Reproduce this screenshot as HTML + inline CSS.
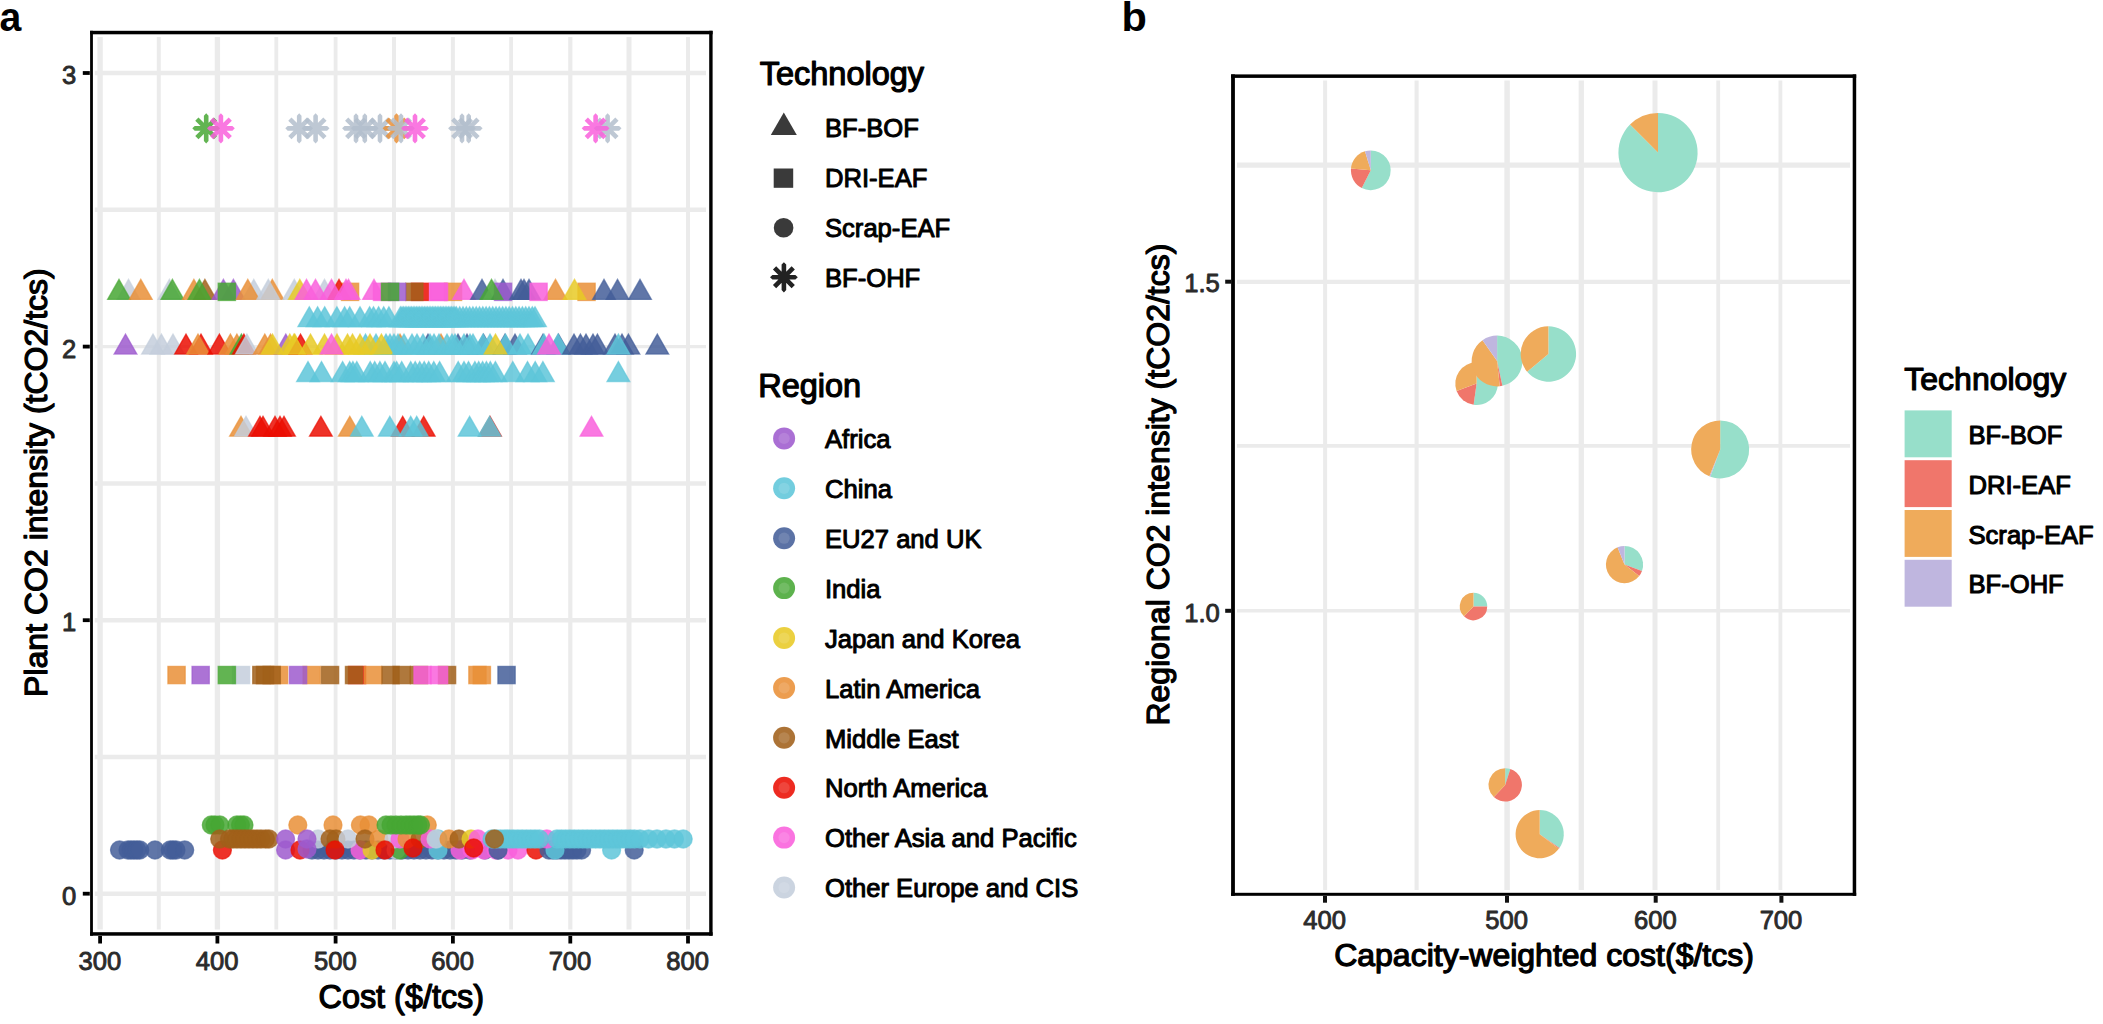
<!DOCTYPE html>
<html lang="en"><head><meta charset="utf-8"><title>Figure</title><style>html,body{margin:0;padding:0;background:#fff}svg{display:block}</style></head><body>
<svg width="2103" height="1024" viewBox="0 0 2103 1024" font-family="'Liberation Sans', Arial, sans-serif">
<rect width="2103" height="1024" fill="#fff"/>
<g stroke="#ebebeb" stroke-width="4.5">
<line x1="100.1" x2="100.1" y1="37" y2="929.4" stroke-width="5.4"/>
<line x1="158.8" x2="158.8" y1="37" y2="929.4" stroke-width="4.0"/>
<line x1="217.4" x2="217.4" y1="37" y2="929.4" stroke-width="5.3"/>
<line x1="276.3" x2="276.3" y1="37" y2="929.4" stroke-width="3.8"/>
<line x1="335.6" x2="335.6" y1="37" y2="929.4" stroke-width="3.8"/>
<line x1="394.0" x2="394.0" y1="37" y2="929.4" stroke-width="4.0"/>
<line x1="452.9" x2="452.9" y1="37" y2="929.4" stroke-width="4.0"/>
<line x1="511.1" x2="511.1" y1="37" y2="929.4" stroke-width="3.8"/>
<line x1="570.3" x2="570.3" y1="37" y2="929.4" stroke-width="4.2"/>
<line x1="629.0" x2="629.0" y1="37" y2="929.4" stroke-width="5.0"/>
<line x1="688.0" x2="688.0" y1="37" y2="929.4" stroke-width="4.0"/>
<line x1="94.8" x2="706" y1="893.7" y2="893.7"/>
<line x1="94.8" x2="706" y1="756.9" y2="756.9"/>
<line x1="94.8" x2="706" y1="620.2" y2="620.2"/>
<line x1="94.8" x2="706" y1="483.4" y2="483.4"/>
<line x1="94.8" x2="706" y1="346.6" y2="346.6" stroke-width="3.2"/>
<line x1="94.8" x2="706" y1="209.8" y2="209.8"/>
<line x1="94.8" x2="706" y1="73.0" y2="73.0"/>
</g>
<g id="pa">
<path d="M192.30 128.36L194.70 126.06L217.70 126.06L220.10 128.36L217.70 130.66L194.70 130.66ZM206.20 113.26L208.50 115.66L208.50 141.06L206.20 143.46L203.90 141.06L203.90 115.66ZM198.49 117.40L217.16 136.07L213.91 139.32L195.24 120.65ZM195.24 136.07L213.91 117.40L217.16 120.65L198.49 139.32Z" fill="#47a734" fill-opacity="0.85"/>
<path d="M207.00 128.36L209.40 126.06L232.40 126.06L234.80 128.36L232.40 130.66L209.40 130.66ZM220.90 113.26L223.20 115.66L223.20 141.06L220.90 143.46L218.60 141.06L218.60 115.66ZM213.19 117.40L231.86 136.07L228.61 139.32L209.94 120.65ZM209.94 136.07L228.61 117.40L231.86 120.65L213.19 139.32Z" fill="#f960dc" fill-opacity="0.85"/>
<path d="M285.30 128.36L287.70 126.06L310.70 126.06L313.10 128.36L310.70 130.66L287.70 130.66ZM299.20 113.26L301.50 115.66L301.50 141.06L299.20 143.46L296.90 141.06L296.90 115.66ZM291.49 117.40L310.16 136.07L306.91 139.32L288.24 120.65ZM288.24 136.07L306.91 117.40L310.16 120.65L291.49 139.32Z" fill="#b3becd" fill-opacity="0.85"/>
<path d="M301.70 128.36L304.10 126.06L327.10 126.06L329.50 128.36L327.10 130.66L304.10 130.66ZM315.60 113.26L317.90 115.66L317.90 141.06L315.60 143.46L313.30 141.06L313.30 115.66ZM307.89 117.40L326.56 136.07L323.31 139.32L304.64 120.65ZM304.64 136.07L323.31 117.40L326.56 120.65L307.89 139.32Z" fill="#b3becd" fill-opacity="0.85"/>
<path d="M342.10 128.36L344.50 126.06L367.50 126.06L369.90 128.36L367.50 130.66L344.50 130.66ZM356.00 113.26L358.30 115.66L358.30 141.06L356.00 143.46L353.70 141.06L353.70 115.66ZM348.29 117.40L366.96 136.07L363.71 139.32L345.04 120.65ZM345.04 136.07L363.71 117.40L366.96 120.65L348.29 139.32Z" fill="#b3becd" fill-opacity="0.85"/>
<path d="M350.90 128.36L353.30 126.06L376.30 126.06L378.70 128.36L376.30 130.66L353.30 130.66ZM364.80 113.26L367.10 115.66L367.10 141.06L364.80 143.46L362.50 141.06L362.50 115.66ZM357.09 117.40L375.76 136.07L372.51 139.32L353.84 120.65ZM353.84 136.07L372.51 117.40L375.76 120.65L357.09 139.32Z" fill="#b3becd" fill-opacity="0.85"/>
<path d="M366.10 128.36L368.50 126.06L391.50 126.06L393.90 128.36L391.50 130.66L368.50 130.66ZM380.00 113.26L382.30 115.66L382.30 141.06L380.00 143.46L377.70 141.06L377.70 115.66ZM372.29 117.40L390.96 136.07L387.71 139.32L369.04 120.65ZM369.04 136.07L387.71 117.40L390.96 120.65L372.29 139.32Z" fill="#b3becd" fill-opacity="0.85"/>
<path d="M382.60 128.36L385.00 126.06L408.00 126.06L410.40 128.36L408.00 130.66L385.00 130.66ZM396.50 113.26L398.80 115.66L398.80 141.06L396.50 143.46L394.20 141.06L394.20 115.66ZM388.79 117.40L407.46 136.07L404.21 139.32L385.54 120.65ZM385.54 136.07L404.21 117.40L407.46 120.65L388.79 139.32Z" fill="#e98f37" fill-opacity="0.85"/>
<path d="M387.10 128.36L389.50 126.06L412.50 126.06L414.90 128.36L412.50 130.66L389.50 130.66ZM401.00 113.26L403.30 115.66L403.30 141.06L401.00 143.46L398.70 141.06L398.70 115.66ZM393.29 117.40L411.96 136.07L408.71 139.32L390.04 120.65ZM390.04 136.07L408.71 117.40L411.96 120.65L393.29 139.32Z" fill="#b3becd" fill-opacity="0.85"/>
<path d="M401.10 128.36L403.50 126.06L426.50 126.06L428.90 128.36L426.50 130.66L403.50 130.66ZM415.00 113.26L417.30 115.66L417.30 141.06L415.00 143.46L412.70 141.06L412.70 115.66ZM407.29 117.40L425.96 136.07L422.71 139.32L404.04 120.65ZM404.04 136.07L422.71 117.40L425.96 120.65L407.29 139.32Z" fill="#f960dc" fill-opacity="0.85"/>
<path d="M448.10 128.36L450.50 126.06L473.50 126.06L475.90 128.36L473.50 130.66L450.50 130.66ZM462.00 113.26L464.30 115.66L464.30 141.06L462.00 143.46L459.70 141.06L459.70 115.66ZM454.29 117.40L472.96 136.07L469.71 139.32L451.04 120.65ZM451.04 136.07L469.71 117.40L472.96 120.65L454.29 139.32Z" fill="#b3becd" fill-opacity="0.85"/>
<path d="M454.80 128.36L457.20 126.06L480.20 126.06L482.60 128.36L480.20 130.66L457.20 130.66ZM468.70 113.26L471.00 115.66L471.00 141.06L468.70 143.46L466.40 141.06L466.40 115.66ZM460.99 117.40L479.66 136.07L476.41 139.32L457.74 120.65ZM457.74 136.07L476.41 117.40L479.66 120.65L460.99 139.32Z" fill="#b3becd" fill-opacity="0.85"/>
<path d="M593.70 128.36L596.10 126.06L619.10 126.06L621.50 128.36L619.10 130.66L596.10 130.66ZM607.60 113.26L609.90 115.66L609.90 141.06L607.60 143.46L605.30 141.06L605.30 115.66ZM599.89 117.40L618.56 136.07L615.31 139.32L596.64 120.65ZM596.64 136.07L615.31 117.40L618.56 120.65L599.89 139.32Z" fill="#b3becd" fill-opacity="0.85"/>
<path d="M581.70 128.36L584.10 126.06L607.10 126.06L609.50 128.36L607.10 130.66L584.10 130.66ZM595.60 113.26L597.90 115.66L597.90 141.06L595.60 143.46L593.30 141.06L593.30 115.66ZM587.89 117.40L606.56 136.07L603.31 139.32L584.64 120.65ZM584.64 136.07L603.31 117.40L606.56 120.65L587.89 139.32Z" fill="#f960dc" fill-opacity="0.85"/>
<path d="M117.1 299.4L139.9 299.4L128.5 279.4Z" fill="#c4cedc" fill-opacity="0.85" stroke="#c4cedc" stroke-opacity="0.68" stroke-width="1.3"/>
<path d="M107.6 299.4L130.4 299.4L119.0 279.4Z" fill="#47a734" fill-opacity="0.85" stroke="#47a734" stroke-opacity="0.68" stroke-width="1.3"/>
<path d="M129.4 299.4L152.2 299.4L140.8 279.4Z" fill="#e98f37" fill-opacity="0.85" stroke="#e98f37" stroke-opacity="0.68" stroke-width="1.3"/>
<path d="M158.0 299.4L180.8 299.4L169.4 279.4Z" fill="#c4cedc" fill-opacity="0.85" stroke="#c4cedc" stroke-opacity="0.68" stroke-width="1.3"/>
<path d="M161.0 299.4L183.8 299.4L172.4 279.4Z" fill="#47a734" fill-opacity="0.85" stroke="#47a734" stroke-opacity="0.68" stroke-width="1.3"/>
<path d="M182.5 299.4L205.3 299.4L193.9 279.4Z" fill="#e98f37" fill-opacity="0.85" stroke="#e98f37" stroke-opacity="0.68" stroke-width="1.3"/>
<path d="M193.5 299.4L216.3 299.4L204.9 279.4Z" fill="#a1601a" fill-opacity="0.85" stroke="#a1601a" stroke-opacity="0.68" stroke-width="1.3"/>
<path d="M188.0 299.4L210.8 299.4L199.4 279.4Z" fill="#47a734" fill-opacity="0.85" stroke="#47a734" stroke-opacity="0.68" stroke-width="1.3"/>
<path d="M212.0 299.4L234.8 299.4L223.4 279.4Z" fill="#9e5bce" fill-opacity="0.85" stroke="#9e5bce" stroke-opacity="0.68" stroke-width="1.3"/>
<path d="M222.0 299.4L244.8 299.4L233.4 279.4Z" fill="#9e5bce" fill-opacity="0.85" stroke="#9e5bce" stroke-opacity="0.68" stroke-width="1.3"/>
<rect x="218.2" y="283.2" width="17.3" height="17.3" fill="#47a734" fill-opacity="0.85" stroke="#47a734" stroke-opacity="0.68" stroke-width="1.3"/>
<path d="M242.4 299.4L265.2 299.4L253.8 279.4Z" fill="#c4cedc" fill-opacity="0.85" stroke="#c4cedc" stroke-opacity="0.68" stroke-width="1.3"/>
<path d="M236.4 299.4L259.2 299.4L247.8 279.4Z" fill="#e98f37" fill-opacity="0.85" stroke="#e98f37" stroke-opacity="0.68" stroke-width="1.3"/>
<path d="M260.9 299.4L283.7 299.4L272.3 279.4Z" fill="#e98f37" fill-opacity="0.85" stroke="#e98f37" stroke-opacity="0.68" stroke-width="1.3"/>
<path d="M256.9 299.4L279.7 299.4L268.3 279.4Z" fill="#c4cedc" fill-opacity="0.85" stroke="#c4cedc" stroke-opacity="0.68" stroke-width="1.3"/>
<path d="M282.9 299.4L305.7 299.4L294.3 279.4Z" fill="#c4cedc" fill-opacity="0.85" stroke="#c4cedc" stroke-opacity="0.68" stroke-width="1.3"/>
<path d="M288.4 299.4L311.2 299.4L299.8 279.4Z" fill="#e8ca26" fill-opacity="0.85" stroke="#e8ca26" stroke-opacity="0.68" stroke-width="1.3"/>
<rect x="341.4" y="283.2" width="17.3" height="17.3" fill="#e98f37" fill-opacity="0.85" stroke="#e98f37" stroke-opacity="0.68" stroke-width="1.3"/>
<path d="M313.1 299.4L335.9 299.4L324.5 279.4Z" fill="#c4cedc" fill-opacity="0.85" stroke="#c4cedc" stroke-opacity="0.68" stroke-width="1.3"/>
<path d="M327.6 299.4L350.4 299.4L339.0 279.4Z" fill="#eb0e02" fill-opacity="0.85" stroke="#eb0e02" stroke-opacity="0.68" stroke-width="1.3"/>
<path d="M295.1 299.4L317.9 299.4L306.5 279.4Z" fill="#f960dc" fill-opacity="0.85" stroke="#f960dc" stroke-opacity="0.68" stroke-width="1.3"/>
<path d="M304.1 299.4L326.9 299.4L315.5 279.4Z" fill="#f960dc" fill-opacity="0.85" stroke="#f960dc" stroke-opacity="0.68" stroke-width="1.3"/>
<path d="M320.1 299.4L342.9 299.4L331.5 279.4Z" fill="#f960dc" fill-opacity="0.85" stroke="#f960dc" stroke-opacity="0.68" stroke-width="1.3"/>
<path d="M334.6 299.4L357.4 299.4L346.0 279.4Z" fill="#f960dc" fill-opacity="0.85" stroke="#f960dc" stroke-opacity="0.68" stroke-width="1.3"/>
<path d="M337.1 299.4L359.9 299.4L348.5 279.4Z" fill="#f960dc" fill-opacity="0.85" stroke="#f960dc" stroke-opacity="0.68" stroke-width="1.3"/>
<path d="M362.6 299.4L385.4 299.4L374.0 279.4Z" fill="#f960dc" fill-opacity="0.85" stroke="#f960dc" stroke-opacity="0.68" stroke-width="1.3"/>
<rect x="373.4" y="283.2" width="17.3" height="17.3" fill="#f960dc" fill-opacity="0.85" stroke="#f960dc" stroke-opacity="0.68" stroke-width="1.3"/>
<rect x="411.4" y="283.2" width="17.3" height="17.3" fill="#eb0e02" fill-opacity="0.85" stroke="#eb0e02" stroke-opacity="0.68" stroke-width="1.3"/>
<rect x="405.7" y="283.2" width="17.3" height="17.3" fill="#a1601a" fill-opacity="0.85" stroke="#a1601a" stroke-opacity="0.68" stroke-width="1.3"/>
<rect x="388.4" y="283.2" width="17.3" height="17.3" fill="#9e5bce" fill-opacity="0.85" stroke="#9e5bce" stroke-opacity="0.68" stroke-width="1.3"/>
<rect x="381.4" y="283.2" width="17.3" height="17.3" fill="#47a734" fill-opacity="0.85" stroke="#47a734" stroke-opacity="0.68" stroke-width="1.3"/>
<rect x="444.4" y="283.2" width="17.3" height="17.3" fill="#e98f37" fill-opacity="0.85" stroke="#e98f37" stroke-opacity="0.68" stroke-width="1.3"/>
<rect x="429.4" y="283.2" width="17.3" height="17.3" fill="#f960dc" fill-opacity="0.85" stroke="#f960dc" stroke-opacity="0.68" stroke-width="1.3"/>
<rect x="430.4" y="283.2" width="17.3" height="17.3" fill="#f960dc" fill-opacity="0.85" stroke="#f960dc" stroke-opacity="0.68" stroke-width="1.3"/>
<path d="M452.6 299.4L475.4 299.4L464.0 279.4Z" fill="#f960dc" fill-opacity="0.85" stroke="#f960dc" stroke-opacity="0.68" stroke-width="1.3"/>
<path d="M470.6 299.4L493.4 299.4L482.0 279.4Z" fill="#445e99" fill-opacity="0.85" stroke="#445e99" stroke-opacity="0.68" stroke-width="1.3"/>
<path d="M483.6 299.4L506.4 299.4L495.0 279.4Z" fill="#c4cedc" fill-opacity="0.85" stroke="#c4cedc" stroke-opacity="0.68" stroke-width="1.3"/>
<path d="M491.6 299.4L514.4 299.4L503.0 279.4Z" fill="#445e99" fill-opacity="0.85" stroke="#445e99" stroke-opacity="0.68" stroke-width="1.3"/>
<rect x="494.4" y="283.2" width="17.3" height="17.3" fill="#9e5bce" fill-opacity="0.85" stroke="#9e5bce" stroke-opacity="0.68" stroke-width="1.3"/>
<path d="M480.1 299.4L502.9 299.4L491.5 279.4Z" fill="#47a734" fill-opacity="0.85" stroke="#47a734" stroke-opacity="0.68" stroke-width="1.3"/>
<path d="M509.6 299.4L532.4 299.4L521.0 279.4Z" fill="#445e99" fill-opacity="0.85" stroke="#445e99" stroke-opacity="0.68" stroke-width="1.3"/>
<path d="M512.6 299.4L535.4 299.4L524.0 279.4Z" fill="#445e99" fill-opacity="0.85" stroke="#445e99" stroke-opacity="0.68" stroke-width="1.3"/>
<path d="M517.6 299.4L540.4 299.4L529.0 279.4Z" fill="#445e99" fill-opacity="0.85" stroke="#445e99" stroke-opacity="0.68" stroke-width="1.3"/>
<path d="M544.1 299.4L566.9 299.4L555.5 279.4Z" fill="#e98f37" fill-opacity="0.85" stroke="#e98f37" stroke-opacity="0.68" stroke-width="1.3"/>
<rect x="529.9" y="283.2" width="17.3" height="17.3" fill="#f960dc" fill-opacity="0.85" stroke="#f960dc" stroke-opacity="0.68" stroke-width="1.3"/>
<rect x="577.9" y="283.2" width="17.3" height="17.3" fill="#e98f37" fill-opacity="0.85" stroke="#e98f37" stroke-opacity="0.68" stroke-width="1.3"/>
<path d="M563.1 299.4L585.9 299.4L574.5 279.4Z" fill="#e8ca26" fill-opacity="0.85" stroke="#e8ca26" stroke-opacity="0.68" stroke-width="1.3"/>
<path d="M592.6 299.4L615.4 299.4L604.0 279.4Z" fill="#445e99" fill-opacity="0.85" stroke="#445e99" stroke-opacity="0.68" stroke-width="1.3"/>
<path d="M606.1 299.4L628.9 299.4L617.5 279.4Z" fill="#445e99" fill-opacity="0.85" stroke="#445e99" stroke-opacity="0.68" stroke-width="1.3"/>
<path d="M628.6 299.4L651.4 299.4L640.0 279.4Z" fill="#445e99" fill-opacity="0.85" stroke="#445e99" stroke-opacity="0.68" stroke-width="1.3"/>
<path d="M297.9 326.7L320.7 326.7L309.3 306.7Z" fill="#5ec6d9" fill-opacity="0.85" stroke="#5ec6d9" stroke-opacity="0.68" stroke-width="1.3"/>
<path d="M306.2 326.7L329.0 326.7L317.6 306.7Z" fill="#5ec6d9" fill-opacity="0.85" stroke="#5ec6d9" stroke-opacity="0.68" stroke-width="1.3"/>
<path d="M313.3 326.7L336.1 326.7L324.7 306.7Z" fill="#5ec6d9" fill-opacity="0.85" stroke="#5ec6d9" stroke-opacity="0.68" stroke-width="1.3"/>
<path d="M325.5 326.7L348.3 326.7L336.9 306.7Z" fill="#5ec6d9" fill-opacity="0.85" stroke="#5ec6d9" stroke-opacity="0.68" stroke-width="1.3"/>
<path d="M333.2 326.7L356.0 326.7L344.6 306.7Z" fill="#5ec6d9" fill-opacity="0.85" stroke="#5ec6d9" stroke-opacity="0.68" stroke-width="1.3"/>
<path d="M338.3 326.7L361.1 326.7L349.7 306.7Z" fill="#5ec6d9" fill-opacity="0.85" stroke="#5ec6d9" stroke-opacity="0.68" stroke-width="1.3"/>
<path d="M348.6 326.7L371.4 326.7L360.0 306.7Z" fill="#5ec6d9" fill-opacity="0.85" stroke="#5ec6d9" stroke-opacity="0.68" stroke-width="1.3"/>
<path d="M358.2 326.7L381.0 326.7L369.6 306.7Z" fill="#5ec6d9" fill-opacity="0.85" stroke="#5ec6d9" stroke-opacity="0.68" stroke-width="1.3"/>
<path d="M362.1 326.7L384.9 326.7L373.5 306.7Z" fill="#5ec6d9" fill-opacity="0.85" stroke="#5ec6d9" stroke-opacity="0.68" stroke-width="1.3"/>
<path d="M367.2 326.7L390.0 326.7L378.6 306.7Z" fill="#5ec6d9" fill-opacity="0.85" stroke="#5ec6d9" stroke-opacity="0.68" stroke-width="1.3"/>
<path d="M372.3 326.7L395.1 326.7L383.7 306.7Z" fill="#5ec6d9" fill-opacity="0.85" stroke="#5ec6d9" stroke-opacity="0.68" stroke-width="1.3"/>
<path d="M377.5 326.7L400.3 326.7L388.9 306.7Z" fill="#5ec6d9" fill-opacity="0.85" stroke="#5ec6d9" stroke-opacity="0.68" stroke-width="1.3"/>
<path d="M389.0 326.7L411.8 326.7L400.4 306.7Z" fill="#5ec6d9" fill-opacity="0.85" stroke="#5ec6d9" stroke-opacity="0.68" stroke-width="1.3"/>
<path d="M390.6 326.7L413.4 326.7L402.0 306.7Z" fill="#5ec6d9" fill-opacity="0.85" stroke="#5ec6d9" stroke-opacity="0.68" stroke-width="1.3"/>
<path d="M392.2 326.7L415.0 326.7L403.6 306.7Z" fill="#5ec6d9" fill-opacity="0.85" stroke="#5ec6d9" stroke-opacity="0.68" stroke-width="1.3"/>
<path d="M393.8 326.7L416.6 326.7L405.2 306.7Z" fill="#5ec6d9" fill-opacity="0.85" stroke="#5ec6d9" stroke-opacity="0.68" stroke-width="1.3"/>
<path d="M395.4 326.7L418.2 326.7L406.8 306.7Z" fill="#5ec6d9" fill-opacity="0.85" stroke="#5ec6d9" stroke-opacity="0.68" stroke-width="1.3"/>
<path d="M397.0 326.7L419.8 326.7L408.4 306.7Z" fill="#5ec6d9" fill-opacity="0.85" stroke="#5ec6d9" stroke-opacity="0.68" stroke-width="1.3"/>
<path d="M398.6 326.7L421.4 326.7L410.0 306.7Z" fill="#5ec6d9" fill-opacity="0.85" stroke="#5ec6d9" stroke-opacity="0.68" stroke-width="1.3"/>
<path d="M400.2 326.7L423.0 326.7L411.6 306.7Z" fill="#5ec6d9" fill-opacity="0.85" stroke="#5ec6d9" stroke-opacity="0.68" stroke-width="1.3"/>
<path d="M401.8 326.7L424.6 326.7L413.2 306.7Z" fill="#5ec6d9" fill-opacity="0.85" stroke="#5ec6d9" stroke-opacity="0.68" stroke-width="1.3"/>
<path d="M403.4 326.7L426.2 326.7L414.8 306.7Z" fill="#5ec6d9" fill-opacity="0.85" stroke="#5ec6d9" stroke-opacity="0.68" stroke-width="1.3"/>
<path d="M405.0 326.7L427.8 326.7L416.4 306.7Z" fill="#5ec6d9" fill-opacity="0.85" stroke="#5ec6d9" stroke-opacity="0.68" stroke-width="1.3"/>
<path d="M406.6 326.7L429.4 326.7L418.0 306.7Z" fill="#5ec6d9" fill-opacity="0.85" stroke="#5ec6d9" stroke-opacity="0.68" stroke-width="1.3"/>
<path d="M408.2 326.7L431.0 326.7L419.6 306.7Z" fill="#5ec6d9" fill-opacity="0.85" stroke="#5ec6d9" stroke-opacity="0.68" stroke-width="1.3"/>
<path d="M409.8 326.7L432.6 326.7L421.2 306.7Z" fill="#5ec6d9" fill-opacity="0.85" stroke="#5ec6d9" stroke-opacity="0.68" stroke-width="1.3"/>
<path d="M411.4 326.7L434.2 326.7L422.8 306.7Z" fill="#5ec6d9" fill-opacity="0.85" stroke="#5ec6d9" stroke-opacity="0.68" stroke-width="1.3"/>
<path d="M413.0 326.7L435.8 326.7L424.4 306.7Z" fill="#5ec6d9" fill-opacity="0.85" stroke="#5ec6d9" stroke-opacity="0.68" stroke-width="1.3"/>
<path d="M414.6 326.7L437.4 326.7L426.0 306.7Z" fill="#5ec6d9" fill-opacity="0.85" stroke="#5ec6d9" stroke-opacity="0.68" stroke-width="1.3"/>
<path d="M416.2 326.7L439.0 326.7L427.6 306.7Z" fill="#5ec6d9" fill-opacity="0.85" stroke="#5ec6d9" stroke-opacity="0.68" stroke-width="1.3"/>
<path d="M417.8 326.7L440.6 326.7L429.2 306.7Z" fill="#5ec6d9" fill-opacity="0.85" stroke="#5ec6d9" stroke-opacity="0.68" stroke-width="1.3"/>
<path d="M419.4 326.7L442.2 326.7L430.8 306.7Z" fill="#5ec6d9" fill-opacity="0.85" stroke="#5ec6d9" stroke-opacity="0.68" stroke-width="1.3"/>
<path d="M421.0 326.7L443.8 326.7L432.4 306.7Z" fill="#5ec6d9" fill-opacity="0.85" stroke="#5ec6d9" stroke-opacity="0.68" stroke-width="1.3"/>
<path d="M422.6 326.7L445.4 326.7L434.0 306.7Z" fill="#5ec6d9" fill-opacity="0.85" stroke="#5ec6d9" stroke-opacity="0.68" stroke-width="1.3"/>
<path d="M424.2 326.7L447.0 326.7L435.6 306.7Z" fill="#5ec6d9" fill-opacity="0.85" stroke="#5ec6d9" stroke-opacity="0.68" stroke-width="1.3"/>
<path d="M425.8 326.7L448.6 326.7L437.2 306.7Z" fill="#5ec6d9" fill-opacity="0.85" stroke="#5ec6d9" stroke-opacity="0.68" stroke-width="1.3"/>
<path d="M427.4 326.7L450.2 326.7L438.8 306.7Z" fill="#5ec6d9" fill-opacity="0.85" stroke="#5ec6d9" stroke-opacity="0.68" stroke-width="1.3"/>
<path d="M429.0 326.7L451.8 326.7L440.4 306.7Z" fill="#5ec6d9" fill-opacity="0.85" stroke="#5ec6d9" stroke-opacity="0.68" stroke-width="1.3"/>
<path d="M430.6 326.7L453.4 326.7L442.0 306.7Z" fill="#5ec6d9" fill-opacity="0.85" stroke="#5ec6d9" stroke-opacity="0.68" stroke-width="1.3"/>
<path d="M432.2 326.7L455.0 326.7L443.6 306.7Z" fill="#5ec6d9" fill-opacity="0.85" stroke="#5ec6d9" stroke-opacity="0.68" stroke-width="1.3"/>
<path d="M433.8 326.7L456.6 326.7L445.2 306.7Z" fill="#5ec6d9" fill-opacity="0.85" stroke="#5ec6d9" stroke-opacity="0.68" stroke-width="1.3"/>
<path d="M435.4 326.7L458.2 326.7L446.8 306.7Z" fill="#5ec6d9" fill-opacity="0.85" stroke="#5ec6d9" stroke-opacity="0.68" stroke-width="1.3"/>
<path d="M437.0 326.7L459.8 326.7L448.4 306.7Z" fill="#5ec6d9" fill-opacity="0.85" stroke="#5ec6d9" stroke-opacity="0.68" stroke-width="1.3"/>
<path d="M438.6 326.7L461.4 326.7L450.0 306.7Z" fill="#5ec6d9" fill-opacity="0.85" stroke="#5ec6d9" stroke-opacity="0.68" stroke-width="1.3"/>
<path d="M440.2 326.7L463.0 326.7L451.6 306.7Z" fill="#5ec6d9" fill-opacity="0.85" stroke="#5ec6d9" stroke-opacity="0.68" stroke-width="1.3"/>
<path d="M441.8 326.7L464.6 326.7L453.2 306.7Z" fill="#5ec6d9" fill-opacity="0.85" stroke="#5ec6d9" stroke-opacity="0.68" stroke-width="1.3"/>
<path d="M443.4 326.7L466.2 326.7L454.8 306.7Z" fill="#5ec6d9" fill-opacity="0.85" stroke="#5ec6d9" stroke-opacity="0.68" stroke-width="1.3"/>
<path d="M445.0 326.7L467.8 326.7L456.4 306.7Z" fill="#5ec6d9" fill-opacity="0.85" stroke="#5ec6d9" stroke-opacity="0.68" stroke-width="1.3"/>
<path d="M448.3 326.7L471.1 326.7L459.7 306.7Z" fill="#5ec6d9" fill-opacity="0.85" stroke="#5ec6d9" stroke-opacity="0.68" stroke-width="1.3"/>
<path d="M451.6 326.7L474.4 326.7L463.0 306.7Z" fill="#5ec6d9" fill-opacity="0.85" stroke="#5ec6d9" stroke-opacity="0.68" stroke-width="1.3"/>
<path d="M454.9 326.7L477.7 326.7L466.3 306.7Z" fill="#5ec6d9" fill-opacity="0.85" stroke="#5ec6d9" stroke-opacity="0.68" stroke-width="1.3"/>
<path d="M458.2 326.7L481.0 326.7L469.6 306.7Z" fill="#5ec6d9" fill-opacity="0.85" stroke="#5ec6d9" stroke-opacity="0.68" stroke-width="1.3"/>
<path d="M461.5 326.7L484.3 326.7L472.9 306.7Z" fill="#5ec6d9" fill-opacity="0.85" stroke="#5ec6d9" stroke-opacity="0.68" stroke-width="1.3"/>
<path d="M464.8 326.7L487.6 326.7L476.2 306.7Z" fill="#5ec6d9" fill-opacity="0.85" stroke="#5ec6d9" stroke-opacity="0.68" stroke-width="1.3"/>
<path d="M468.1 326.7L490.9 326.7L479.5 306.7Z" fill="#5ec6d9" fill-opacity="0.85" stroke="#5ec6d9" stroke-opacity="0.68" stroke-width="1.3"/>
<path d="M471.4 326.7L494.2 326.7L482.8 306.7Z" fill="#5ec6d9" fill-opacity="0.85" stroke="#5ec6d9" stroke-opacity="0.68" stroke-width="1.3"/>
<path d="M474.7 326.7L497.5 326.7L486.1 306.7Z" fill="#5ec6d9" fill-opacity="0.85" stroke="#5ec6d9" stroke-opacity="0.68" stroke-width="1.3"/>
<path d="M478.0 326.7L500.8 326.7L489.4 306.7Z" fill="#5ec6d9" fill-opacity="0.85" stroke="#5ec6d9" stroke-opacity="0.68" stroke-width="1.3"/>
<path d="M481.3 326.7L504.1 326.7L492.7 306.7Z" fill="#5ec6d9" fill-opacity="0.85" stroke="#5ec6d9" stroke-opacity="0.68" stroke-width="1.3"/>
<path d="M484.6 326.7L507.4 326.7L496.0 306.7Z" fill="#5ec6d9" fill-opacity="0.85" stroke="#5ec6d9" stroke-opacity="0.68" stroke-width="1.3"/>
<path d="M487.9 326.7L510.7 326.7L499.3 306.7Z" fill="#5ec6d9" fill-opacity="0.85" stroke="#5ec6d9" stroke-opacity="0.68" stroke-width="1.3"/>
<path d="M491.2 326.7L514.0 326.7L502.6 306.7Z" fill="#5ec6d9" fill-opacity="0.85" stroke="#5ec6d9" stroke-opacity="0.68" stroke-width="1.3"/>
<path d="M494.5 326.7L517.3 326.7L505.9 306.7Z" fill="#5ec6d9" fill-opacity="0.85" stroke="#5ec6d9" stroke-opacity="0.68" stroke-width="1.3"/>
<path d="M497.8 326.7L520.6 326.7L509.2 306.7Z" fill="#5ec6d9" fill-opacity="0.85" stroke="#5ec6d9" stroke-opacity="0.68" stroke-width="1.3"/>
<path d="M501.1 326.7L523.9 326.7L512.5 306.7Z" fill="#5ec6d9" fill-opacity="0.85" stroke="#5ec6d9" stroke-opacity="0.68" stroke-width="1.3"/>
<path d="M504.4 326.7L527.2 326.7L515.8 306.7Z" fill="#5ec6d9" fill-opacity="0.85" stroke="#5ec6d9" stroke-opacity="0.68" stroke-width="1.3"/>
<path d="M507.7 326.7L530.5 326.7L519.1 306.7Z" fill="#5ec6d9" fill-opacity="0.85" stroke="#5ec6d9" stroke-opacity="0.68" stroke-width="1.3"/>
<path d="M511.0 326.7L533.8 326.7L522.4 306.7Z" fill="#5ec6d9" fill-opacity="0.85" stroke="#5ec6d9" stroke-opacity="0.68" stroke-width="1.3"/>
<path d="M514.3 326.7L537.1 326.7L525.7 306.7Z" fill="#5ec6d9" fill-opacity="0.85" stroke="#5ec6d9" stroke-opacity="0.68" stroke-width="1.3"/>
<path d="M517.6 326.7L540.4 326.7L529.0 306.7Z" fill="#5ec6d9" fill-opacity="0.85" stroke="#5ec6d9" stroke-opacity="0.68" stroke-width="1.3"/>
<path d="M520.9 326.7L543.7 326.7L532.3 306.7Z" fill="#5ec6d9" fill-opacity="0.85" stroke="#5ec6d9" stroke-opacity="0.68" stroke-width="1.3"/>
<path d="M523.6 326.7L546.4 326.7L535.0 306.7Z" fill="#5ec6d9" fill-opacity="0.85" stroke="#5ec6d9" stroke-opacity="0.68" stroke-width="1.3"/>
<path d="M296.6 381.5L319.4 381.5L308.0 361.5Z" fill="#5ec6d9" fill-opacity="0.85" stroke="#5ec6d9" stroke-opacity="0.68" stroke-width="1.3"/>
<path d="M310.1 381.5L332.9 381.5L321.5 361.5Z" fill="#5ec6d9" fill-opacity="0.85" stroke="#5ec6d9" stroke-opacity="0.68" stroke-width="1.3"/>
<path d="M331.2 381.5L354.0 381.5L342.6 361.5Z" fill="#5ec6d9" fill-opacity="0.85" stroke="#5ec6d9" stroke-opacity="0.68" stroke-width="1.3"/>
<path d="M338.3 381.5L361.1 381.5L349.7 361.5Z" fill="#5ec6d9" fill-opacity="0.85" stroke="#5ec6d9" stroke-opacity="0.68" stroke-width="1.3"/>
<path d="M341.5 381.5L364.3 381.5L352.9 361.5Z" fill="#5ec6d9" fill-opacity="0.85" stroke="#5ec6d9" stroke-opacity="0.68" stroke-width="1.3"/>
<path d="M345.4 381.5L368.2 381.5L356.8 361.5Z" fill="#5ec6d9" fill-opacity="0.85" stroke="#5ec6d9" stroke-opacity="0.68" stroke-width="1.3"/>
<path d="M358.8 381.5L381.6 381.5L370.2 361.5Z" fill="#5ec6d9" fill-opacity="0.85" stroke="#5ec6d9" stroke-opacity="0.68" stroke-width="1.3"/>
<path d="M363.3 381.5L386.1 381.5L374.7 361.5Z" fill="#5ec6d9" fill-opacity="0.85" stroke="#5ec6d9" stroke-opacity="0.68" stroke-width="1.3"/>
<path d="M368.5 381.5L391.3 381.5L379.9 361.5Z" fill="#5ec6d9" fill-opacity="0.85" stroke="#5ec6d9" stroke-opacity="0.68" stroke-width="1.3"/>
<path d="M373.6 381.5L396.4 381.5L385.0 361.5Z" fill="#5ec6d9" fill-opacity="0.85" stroke="#5ec6d9" stroke-opacity="0.68" stroke-width="1.3"/>
<path d="M382.6 381.5L405.4 381.5L394.0 361.5Z" fill="#5ec6d9" fill-opacity="0.85" stroke="#5ec6d9" stroke-opacity="0.68" stroke-width="1.3"/>
<path d="M385.2 381.5L408.0 381.5L396.6 361.5Z" fill="#5ec6d9" fill-opacity="0.85" stroke="#5ec6d9" stroke-opacity="0.68" stroke-width="1.3"/>
<path d="M390.3 381.5L413.1 381.5L401.7 361.5Z" fill="#5ec6d9" fill-opacity="0.85" stroke="#5ec6d9" stroke-opacity="0.68" stroke-width="1.3"/>
<path d="M399.3 381.5L422.1 381.5L410.7 361.5Z" fill="#5ec6d9" fill-opacity="0.85" stroke="#5ec6d9" stroke-opacity="0.68" stroke-width="1.3"/>
<path d="M403.8 381.5L426.6 381.5L415.2 361.5Z" fill="#5ec6d9" fill-opacity="0.85" stroke="#5ec6d9" stroke-opacity="0.68" stroke-width="1.3"/>
<path d="M408.3 381.5L431.1 381.5L419.7 361.5Z" fill="#5ec6d9" fill-opacity="0.85" stroke="#5ec6d9" stroke-opacity="0.68" stroke-width="1.3"/>
<path d="M412.8 381.5L435.6 381.5L424.2 361.5Z" fill="#5ec6d9" fill-opacity="0.85" stroke="#5ec6d9" stroke-opacity="0.68" stroke-width="1.3"/>
<path d="M417.3 381.5L440.1 381.5L428.7 361.5Z" fill="#5ec6d9" fill-opacity="0.85" stroke="#5ec6d9" stroke-opacity="0.68" stroke-width="1.3"/>
<path d="M422.4 381.5L445.2 381.5L433.8 361.5Z" fill="#5ec6d9" fill-opacity="0.85" stroke="#5ec6d9" stroke-opacity="0.68" stroke-width="1.3"/>
<path d="M428.2 381.5L451.0 381.5L439.6 361.5Z" fill="#5ec6d9" fill-opacity="0.85" stroke="#5ec6d9" stroke-opacity="0.68" stroke-width="1.3"/>
<path d="M446.8 381.5L469.6 381.5L458.2 361.5Z" fill="#5ec6d9" fill-opacity="0.85" stroke="#5ec6d9" stroke-opacity="0.68" stroke-width="1.3"/>
<path d="M452.6 381.5L475.4 381.5L464.0 361.5Z" fill="#5ec6d9" fill-opacity="0.85" stroke="#5ec6d9" stroke-opacity="0.68" stroke-width="1.3"/>
<path d="M457.1 381.5L479.9 381.5L468.5 361.5Z" fill="#5ec6d9" fill-opacity="0.85" stroke="#5ec6d9" stroke-opacity="0.68" stroke-width="1.3"/>
<path d="M463.5 381.5L486.3 381.5L474.9 361.5Z" fill="#5ec6d9" fill-opacity="0.85" stroke="#5ec6d9" stroke-opacity="0.68" stroke-width="1.3"/>
<path d="M467.3 381.5L490.1 381.5L478.7 361.5Z" fill="#5ec6d9" fill-opacity="0.85" stroke="#5ec6d9" stroke-opacity="0.68" stroke-width="1.3"/>
<path d="M471.2 381.5L494.0 381.5L482.6 361.5Z" fill="#5ec6d9" fill-opacity="0.85" stroke="#5ec6d9" stroke-opacity="0.68" stroke-width="1.3"/>
<path d="M475.0 381.5L497.8 381.5L486.4 361.5Z" fill="#5ec6d9" fill-opacity="0.85" stroke="#5ec6d9" stroke-opacity="0.68" stroke-width="1.3"/>
<path d="M478.9 381.5L501.7 381.5L490.3 361.5Z" fill="#5ec6d9" fill-opacity="0.85" stroke="#5ec6d9" stroke-opacity="0.68" stroke-width="1.3"/>
<path d="M484.0 381.5L506.8 381.5L495.4 361.5Z" fill="#5ec6d9" fill-opacity="0.85" stroke="#5ec6d9" stroke-opacity="0.68" stroke-width="1.3"/>
<path d="M501.4 381.5L524.2 381.5L512.8 361.5Z" fill="#5ec6d9" fill-opacity="0.85" stroke="#5ec6d9" stroke-opacity="0.68" stroke-width="1.3"/>
<path d="M516.1 381.5L538.9 381.5L527.5 361.5Z" fill="#5ec6d9" fill-opacity="0.85" stroke="#5ec6d9" stroke-opacity="0.68" stroke-width="1.3"/>
<path d="M523.8 381.5L546.6 381.5L535.2 361.5Z" fill="#5ec6d9" fill-opacity="0.85" stroke="#5ec6d9" stroke-opacity="0.68" stroke-width="1.3"/>
<path d="M531.5 381.5L554.3 381.5L542.9 361.5Z" fill="#5ec6d9" fill-opacity="0.85" stroke="#5ec6d9" stroke-opacity="0.68" stroke-width="1.3"/>
<path d="M607.0 381.5L629.8 381.5L618.4 361.5Z" fill="#5ec6d9" fill-opacity="0.85" stroke="#5ec6d9" stroke-opacity="0.68" stroke-width="1.3"/>
<path d="M114.1 354.1L136.9 354.1L125.5 334.1Z" fill="#9e5bce" fill-opacity="0.85" stroke="#9e5bce" stroke-opacity="0.68" stroke-width="1.3"/>
<path d="M141.6 354.1L164.4 354.1L153.0 334.1Z" fill="#c4cedc" fill-opacity="0.85" stroke="#c4cedc" stroke-opacity="0.68" stroke-width="1.3"/>
<path d="M150.0 354.1L172.8 354.1L161.4 334.1Z" fill="#c4cedc" fill-opacity="0.85" stroke="#c4cedc" stroke-opacity="0.68" stroke-width="1.3"/>
<path d="M161.6 354.1L184.4 354.1L173.0 334.1Z" fill="#c4cedc" fill-opacity="0.85" stroke="#c4cedc" stroke-opacity="0.68" stroke-width="1.3"/>
<path d="M174.6 354.1L197.4 354.1L186.0 334.1Z" fill="#eb0e02" fill-opacity="0.85" stroke="#eb0e02" stroke-opacity="0.68" stroke-width="1.3"/>
<path d="M189.6 354.1L212.4 354.1L201.0 334.1Z" fill="#eb0e02" fill-opacity="0.85" stroke="#eb0e02" stroke-opacity="0.68" stroke-width="1.3"/>
<path d="M186.6 354.1L209.4 354.1L198.0 334.1Z" fill="#e98f37" fill-opacity="0.85" stroke="#e98f37" stroke-opacity="0.68" stroke-width="1.3"/>
<path d="M208.0 354.1L230.8 354.1L219.4 334.1Z" fill="#eb0e02" fill-opacity="0.85" stroke="#eb0e02" stroke-opacity="0.68" stroke-width="1.3"/>
<path d="M219.0 354.1L241.8 354.1L230.4 334.1Z" fill="#e98f37" fill-opacity="0.85" stroke="#e98f37" stroke-opacity="0.68" stroke-width="1.3"/>
<path d="M225.5 354.1L248.3 354.1L236.9 334.1Z" fill="#e98f37" fill-opacity="0.85" stroke="#e98f37" stroke-opacity="0.68" stroke-width="1.3"/>
<path d="M230.0 354.1L252.8 354.1L241.4 334.1Z" fill="#47a734" fill-opacity="0.85" stroke="#47a734" stroke-opacity="0.68" stroke-width="1.3"/>
<path d="M232.5 354.1L255.3 354.1L243.9 334.1Z" fill="#eb0e02" fill-opacity="0.85" stroke="#eb0e02" stroke-opacity="0.68" stroke-width="1.3"/>
<path d="M235.5 354.1L258.3 354.1L246.9 334.1Z" fill="#c4cedc" fill-opacity="0.85" stroke="#c4cedc" stroke-opacity="0.68" stroke-width="1.3"/>
<path d="M253.4 354.1L276.2 354.1L264.8 334.1Z" fill="#e98f37" fill-opacity="0.85" stroke="#e98f37" stroke-opacity="0.68" stroke-width="1.3"/>
<path d="M259.1 354.1L281.9 354.1L270.5 334.1Z" fill="#e98f37" fill-opacity="0.85" stroke="#e98f37" stroke-opacity="0.68" stroke-width="1.3"/>
<path d="M274.4 354.1L297.2 354.1L285.8 334.1Z" fill="#9e5bce" fill-opacity="0.85" stroke="#9e5bce" stroke-opacity="0.68" stroke-width="1.3"/>
<path d="M261.1 354.1L283.9 354.1L272.5 334.1Z" fill="#e8ca26" fill-opacity="0.85" stroke="#e8ca26" stroke-opacity="0.68" stroke-width="1.3"/>
<path d="M278.4 354.1L301.2 354.1L289.8 334.1Z" fill="#e8ca26" fill-opacity="0.85" stroke="#e8ca26" stroke-opacity="0.68" stroke-width="1.3"/>
<path d="M283.4 354.1L306.2 354.1L294.8 334.1Z" fill="#e8ca26" fill-opacity="0.85" stroke="#e8ca26" stroke-opacity="0.68" stroke-width="1.3"/>
<path d="M289.1 354.1L311.9 354.1L300.5 334.1Z" fill="#eb0e02" fill-opacity="0.85" stroke="#eb0e02" stroke-opacity="0.68" stroke-width="1.3"/>
<path d="M282.6 354.1L305.4 354.1L294.0 334.1Z" fill="#e8ca26" fill-opacity="0.85" stroke="#e8ca26" stroke-opacity="0.68" stroke-width="1.3"/>
<path d="M299.1 354.1L321.9 354.1L310.5 334.1Z" fill="#e8ca26" fill-opacity="0.85" stroke="#e8ca26" stroke-opacity="0.68" stroke-width="1.3"/>
<path d="M313.1 354.1L335.9 354.1L324.5 334.1Z" fill="#e8ca26" fill-opacity="0.85" stroke="#e8ca26" stroke-opacity="0.68" stroke-width="1.3"/>
<path d="M325.6 354.1L348.4 354.1L337.0 334.1Z" fill="#e8ca26" fill-opacity="0.85" stroke="#e8ca26" stroke-opacity="0.68" stroke-width="1.3"/>
<path d="M354.1 354.1L376.9 354.1L365.5 334.1Z" fill="#5ec6d9" fill-opacity="0.85" stroke="#5ec6d9" stroke-opacity="0.68" stroke-width="1.3"/>
<path d="M364.6 354.1L387.4 354.1L376.0 334.1Z" fill="#5ec6d9" fill-opacity="0.85" stroke="#5ec6d9" stroke-opacity="0.68" stroke-width="1.3"/>
<path d="M336.1 354.1L358.9 354.1L347.5 334.1Z" fill="#e8ca26" fill-opacity="0.85" stroke="#e8ca26" stroke-opacity="0.68" stroke-width="1.3"/>
<path d="M341.1 354.1L363.9 354.1L352.5 334.1Z" fill="#e8ca26" fill-opacity="0.85" stroke="#e8ca26" stroke-opacity="0.68" stroke-width="1.3"/>
<path d="M348.6 354.1L371.4 354.1L360.0 334.1Z" fill="#e8ca26" fill-opacity="0.85" stroke="#e8ca26" stroke-opacity="0.68" stroke-width="1.3"/>
<path d="M358.6 354.1L381.4 354.1L370.0 334.1Z" fill="#e8ca26" fill-opacity="0.85" stroke="#e8ca26" stroke-opacity="0.68" stroke-width="1.3"/>
<path d="M320.1 354.1L342.9 354.1L331.5 334.1Z" fill="#f960dc" fill-opacity="0.85" stroke="#f960dc" stroke-opacity="0.68" stroke-width="1.3"/>
<path d="M388.6 354.1L411.4 354.1L400.0 334.1Z" fill="#e98f37" fill-opacity="0.85" stroke="#e98f37" stroke-opacity="0.68" stroke-width="1.3"/>
<path d="M416.6 354.1L439.4 354.1L428.0 334.1Z" fill="#445e99" fill-opacity="0.85" stroke="#445e99" stroke-opacity="0.68" stroke-width="1.3"/>
<path d="M429.6 354.1L452.4 354.1L441.0 334.1Z" fill="#e98f37" fill-opacity="0.85" stroke="#e98f37" stroke-opacity="0.68" stroke-width="1.3"/>
<path d="M446.6 354.1L469.4 354.1L458.0 334.1Z" fill="#445e99" fill-opacity="0.85" stroke="#445e99" stroke-opacity="0.68" stroke-width="1.3"/>
<path d="M455.6 354.1L478.4 354.1L467.0 334.1Z" fill="#445e99" fill-opacity="0.85" stroke="#445e99" stroke-opacity="0.68" stroke-width="1.3"/>
<path d="M472.1 354.1L494.9 354.1L483.5 334.1Z" fill="#445e99" fill-opacity="0.85" stroke="#445e99" stroke-opacity="0.68" stroke-width="1.3"/>
<path d="M374.6 354.1L397.4 354.1L386.0 334.1Z" fill="#5ec6d9" fill-opacity="0.85" stroke="#5ec6d9" stroke-opacity="0.68" stroke-width="1.3"/>
<path d="M378.6 354.1L401.4 354.1L390.0 334.1Z" fill="#5ec6d9" fill-opacity="0.85" stroke="#5ec6d9" stroke-opacity="0.68" stroke-width="1.3"/>
<path d="M382.6 354.1L405.4 354.1L394.0 334.1Z" fill="#5ec6d9" fill-opacity="0.85" stroke="#5ec6d9" stroke-opacity="0.68" stroke-width="1.3"/>
<path d="M386.6 354.1L409.4 354.1L398.0 334.1Z" fill="#5ec6d9" fill-opacity="0.85" stroke="#5ec6d9" stroke-opacity="0.68" stroke-width="1.3"/>
<path d="M370.0 354.1L392.8 354.1L381.4 334.1Z" fill="#e8ca26" fill-opacity="0.85" stroke="#e8ca26" stroke-opacity="0.68" stroke-width="1.3"/>
<path d="M392.6 354.1L415.4 354.1L404.0 334.1Z" fill="#5ec6d9" fill-opacity="0.85" stroke="#5ec6d9" stroke-opacity="0.68" stroke-width="1.3"/>
<path d="M400.6 354.1L423.4 354.1L412.0 334.1Z" fill="#5ec6d9" fill-opacity="0.85" stroke="#5ec6d9" stroke-opacity="0.68" stroke-width="1.3"/>
<path d="M405.6 354.1L428.4 354.1L417.0 334.1Z" fill="#5ec6d9" fill-opacity="0.85" stroke="#5ec6d9" stroke-opacity="0.68" stroke-width="1.3"/>
<path d="M411.6 354.1L434.4 354.1L423.0 334.1Z" fill="#5ec6d9" fill-opacity="0.85" stroke="#5ec6d9" stroke-opacity="0.68" stroke-width="1.3"/>
<path d="M418.6 354.1L441.4 354.1L430.0 334.1Z" fill="#5ec6d9" fill-opacity="0.85" stroke="#5ec6d9" stroke-opacity="0.68" stroke-width="1.3"/>
<path d="M422.6 354.1L445.4 354.1L434.0 334.1Z" fill="#5ec6d9" fill-opacity="0.85" stroke="#5ec6d9" stroke-opacity="0.68" stroke-width="1.3"/>
<path d="M427.6 354.1L450.4 354.1L439.0 334.1Z" fill="#5ec6d9" fill-opacity="0.85" stroke="#5ec6d9" stroke-opacity="0.68" stroke-width="1.3"/>
<path d="M435.6 354.1L458.4 354.1L447.0 334.1Z" fill="#5ec6d9" fill-opacity="0.85" stroke="#5ec6d9" stroke-opacity="0.68" stroke-width="1.3"/>
<path d="M440.6 354.1L463.4 354.1L452.0 334.1Z" fill="#5ec6d9" fill-opacity="0.85" stroke="#5ec6d9" stroke-opacity="0.68" stroke-width="1.3"/>
<path d="M443.6 354.1L466.4 354.1L455.0 334.1Z" fill="#5ec6d9" fill-opacity="0.85" stroke="#5ec6d9" stroke-opacity="0.68" stroke-width="1.3"/>
<path d="M452.6 354.1L475.4 354.1L464.0 334.1Z" fill="#5ec6d9" fill-opacity="0.85" stroke="#5ec6d9" stroke-opacity="0.68" stroke-width="1.3"/>
<path d="M458.6 354.1L481.4 354.1L470.0 334.1Z" fill="#5ec6d9" fill-opacity="0.85" stroke="#5ec6d9" stroke-opacity="0.68" stroke-width="1.3"/>
<path d="M461.6 354.1L484.4 354.1L473.0 334.1Z" fill="#5ec6d9" fill-opacity="0.85" stroke="#5ec6d9" stroke-opacity="0.68" stroke-width="1.3"/>
<path d="M471.6 354.1L494.4 354.1L483.0 334.1Z" fill="#5ec6d9" fill-opacity="0.85" stroke="#5ec6d9" stroke-opacity="0.68" stroke-width="1.3"/>
<path d="M478.6 354.1L501.4 354.1L490.0 334.1Z" fill="#5ec6d9" fill-opacity="0.85" stroke="#5ec6d9" stroke-opacity="0.68" stroke-width="1.3"/>
<path d="M493.6 354.1L516.4 354.1L505.0 334.1Z" fill="#445e99" fill-opacity="0.85" stroke="#445e99" stroke-opacity="0.68" stroke-width="1.3"/>
<path d="M503.6 354.1L526.4 354.1L515.0 334.1Z" fill="#445e99" fill-opacity="0.85" stroke="#445e99" stroke-opacity="0.68" stroke-width="1.3"/>
<path d="M494.1 354.1L516.9 354.1L505.5 334.1Z" fill="#5ec6d9" fill-opacity="0.85" stroke="#5ec6d9" stroke-opacity="0.68" stroke-width="1.3"/>
<path d="M508.6 354.1L531.4 354.1L520.0 334.1Z" fill="#5ec6d9" fill-opacity="0.85" stroke="#5ec6d9" stroke-opacity="0.68" stroke-width="1.3"/>
<path d="M516.6 354.1L539.4 354.1L528.0 334.1Z" fill="#5ec6d9" fill-opacity="0.85" stroke="#5ec6d9" stroke-opacity="0.68" stroke-width="1.3"/>
<path d="M484.1 354.1L506.9 354.1L495.5 334.1Z" fill="#e8ca26" fill-opacity="0.85" stroke="#e8ca26" stroke-opacity="0.68" stroke-width="1.3"/>
<path d="M531.6 354.1L554.4 354.1L543.0 334.1Z" fill="#445e99" fill-opacity="0.85" stroke="#445e99" stroke-opacity="0.68" stroke-width="1.3"/>
<path d="M532.6 354.1L555.4 354.1L544.0 334.1Z" fill="#5ec6d9" fill-opacity="0.85" stroke="#5ec6d9" stroke-opacity="0.68" stroke-width="1.3"/>
<path d="M547.1 354.1L569.9 354.1L558.5 334.1Z" fill="#445e99" fill-opacity="0.85" stroke="#445e99" stroke-opacity="0.68" stroke-width="1.3"/>
<path d="M546.6 354.1L569.4 354.1L558.0 334.1Z" fill="#5ec6d9" fill-opacity="0.85" stroke="#5ec6d9" stroke-opacity="0.68" stroke-width="1.3"/>
<path d="M537.6 354.1L560.4 354.1L549.0 334.1Z" fill="#f960dc" fill-opacity="0.85" stroke="#f960dc" stroke-opacity="0.68" stroke-width="1.3"/>
<path d="M562.6 354.1L585.4 354.1L574.0 334.1Z" fill="#445e99" fill-opacity="0.85" stroke="#445e99" stroke-opacity="0.68" stroke-width="1.3"/>
<path d="M569.0 354.1L591.8 354.1L580.4 334.1Z" fill="#445e99" fill-opacity="0.85" stroke="#445e99" stroke-opacity="0.68" stroke-width="1.3"/>
<path d="M574.6 354.1L597.4 354.1L586.0 334.1Z" fill="#445e99" fill-opacity="0.85" stroke="#445e99" stroke-opacity="0.68" stroke-width="1.3"/>
<path d="M581.6 354.1L604.4 354.1L593.0 334.1Z" fill="#445e99" fill-opacity="0.85" stroke="#445e99" stroke-opacity="0.68" stroke-width="1.3"/>
<path d="M586.0 354.1L608.8 354.1L597.4 334.1Z" fill="#445e99" fill-opacity="0.85" stroke="#445e99" stroke-opacity="0.68" stroke-width="1.3"/>
<path d="M603.6 354.1L626.4 354.1L615.0 334.1Z" fill="#445e99" fill-opacity="0.85" stroke="#445e99" stroke-opacity="0.68" stroke-width="1.3"/>
<path d="M610.6 354.1L633.4 354.1L622.0 334.1Z" fill="#445e99" fill-opacity="0.85" stroke="#445e99" stroke-opacity="0.68" stroke-width="1.3"/>
<path d="M617.0 354.1L639.8 354.1L628.4 334.1Z" fill="#445e99" fill-opacity="0.85" stroke="#445e99" stroke-opacity="0.68" stroke-width="1.3"/>
<path d="M607.0 354.1L629.8 354.1L618.4 334.1Z" fill="#5ec6d9" fill-opacity="0.85" stroke="#5ec6d9" stroke-opacity="0.68" stroke-width="1.3"/>
<path d="M645.9 354.1L668.7 354.1L657.3 334.1Z" fill="#445e99" fill-opacity="0.85" stroke="#445e99" stroke-opacity="0.68" stroke-width="1.3"/>
<path d="M229.6 436.2L252.4 436.2L241.0 416.2Z" fill="#e98f37" fill-opacity="0.85" stroke="#e98f37" stroke-opacity="0.68" stroke-width="1.3"/>
<path d="M234.6 436.2L257.4 436.2L246.0 416.2Z" fill="#c4cedc" fill-opacity="0.85" stroke="#c4cedc" stroke-opacity="0.68" stroke-width="1.3"/>
<path d="M248.6 436.2L271.4 436.2L260.0 416.2Z" fill="#eb0e02" fill-opacity="0.85" stroke="#eb0e02" stroke-opacity="0.68" stroke-width="1.3"/>
<path d="M251.6 436.2L274.4 436.2L263.0 416.2Z" fill="#eb0e02" fill-opacity="0.85" stroke="#eb0e02" stroke-opacity="0.68" stroke-width="1.3"/>
<path d="M263.6 436.2L286.4 436.2L275.0 416.2Z" fill="#eb0e02" fill-opacity="0.85" stroke="#eb0e02" stroke-opacity="0.68" stroke-width="1.3"/>
<path d="M268.6 436.2L291.4 436.2L280.0 416.2Z" fill="#eb0e02" fill-opacity="0.85" stroke="#eb0e02" stroke-opacity="0.68" stroke-width="1.3"/>
<path d="M272.6 436.2L295.4 436.2L284.0 416.2Z" fill="#eb0e02" fill-opacity="0.85" stroke="#eb0e02" stroke-opacity="0.68" stroke-width="1.3"/>
<path d="M309.5 436.2L332.3 436.2L320.9 416.2Z" fill="#eb0e02" fill-opacity="0.85" stroke="#eb0e02" stroke-opacity="0.68" stroke-width="1.3"/>
<path d="M338.4 436.2L361.2 436.2L349.8 416.2Z" fill="#e98f37" fill-opacity="0.85" stroke="#e98f37" stroke-opacity="0.68" stroke-width="1.3"/>
<path d="M350.4 436.2L373.2 436.2L361.8 416.2Z" fill="#5ec6d9" fill-opacity="0.85" stroke="#5ec6d9" stroke-opacity="0.68" stroke-width="1.3"/>
<path d="M391.3 436.2L414.1 436.2L402.7 416.2Z" fill="#eb0e02" fill-opacity="0.85" stroke="#eb0e02" stroke-opacity="0.68" stroke-width="1.3"/>
<path d="M412.3 436.2L435.1 436.2L423.7 416.2Z" fill="#eb0e02" fill-opacity="0.85" stroke="#eb0e02" stroke-opacity="0.68" stroke-width="1.3"/>
<path d="M378.4 436.2L401.2 436.2L389.8 416.2Z" fill="#5ec6d9" fill-opacity="0.85" stroke="#5ec6d9" stroke-opacity="0.68" stroke-width="1.3"/>
<path d="M399.3 436.2L422.1 436.2L410.7 416.2Z" fill="#5ec6d9" fill-opacity="0.85" stroke="#5ec6d9" stroke-opacity="0.68" stroke-width="1.3"/>
<path d="M405.3 436.2L428.1 436.2L416.7 416.2Z" fill="#5ec6d9" fill-opacity="0.85" stroke="#5ec6d9" stroke-opacity="0.68" stroke-width="1.3"/>
<path d="M478.6 436.2L501.4 436.2L490.0 416.2Z" fill="#eb0e02" fill-opacity="0.85" stroke="#eb0e02" stroke-opacity="0.68" stroke-width="1.3"/>
<path d="M458.2 436.2L481.0 436.2L469.6 416.2Z" fill="#5ec6d9" fill-opacity="0.85" stroke="#5ec6d9" stroke-opacity="0.68" stroke-width="1.3"/>
<path d="M478.2 436.2L501.0 436.2L489.6 416.2Z" fill="#5ec6d9" fill-opacity="0.85" stroke="#5ec6d9" stroke-opacity="0.68" stroke-width="1.3"/>
<path d="M580.1 436.2L602.9 436.2L591.5 416.2Z" fill="#f960dc" fill-opacity="0.85" stroke="#f960dc" stroke-opacity="0.68" stroke-width="1.3"/>
<rect x="167.9" y="666.4" width="17.3" height="17.3" fill="#e98f37" fill-opacity="0.85" stroke="#e98f37" stroke-opacity="0.68" stroke-width="1.3"/>
<rect x="192.0" y="666.4" width="17.3" height="17.3" fill="#9e5bce" fill-opacity="0.85" stroke="#9e5bce" stroke-opacity="0.68" stroke-width="1.3"/>
<rect x="232.4" y="666.4" width="17.3" height="17.3" fill="#c4cedc" fill-opacity="0.85" stroke="#c4cedc" stroke-opacity="0.68" stroke-width="1.3"/>
<rect x="218.2" y="666.4" width="17.3" height="17.3" fill="#47a734" fill-opacity="0.85" stroke="#47a734" stroke-opacity="0.68" stroke-width="1.3"/>
<rect x="270.4" y="666.4" width="17.3" height="17.3" fill="#e98f37" fill-opacity="0.85" stroke="#e98f37" stroke-opacity="0.68" stroke-width="1.3"/>
<rect x="303.0" y="666.4" width="17.3" height="17.3" fill="#e98f37" fill-opacity="0.85" stroke="#e98f37" stroke-opacity="0.68" stroke-width="1.3"/>
<rect x="252.7" y="666.4" width="17.3" height="17.3" fill="#a1601a" fill-opacity="0.85" stroke="#a1601a" stroke-opacity="0.68" stroke-width="1.3"/>
<rect x="256.4" y="666.4" width="17.3" height="17.3" fill="#a1601a" fill-opacity="0.85" stroke="#a1601a" stroke-opacity="0.68" stroke-width="1.3"/>
<rect x="263.1" y="666.4" width="17.3" height="17.3" fill="#a1601a" fill-opacity="0.85" stroke="#a1601a" stroke-opacity="0.68" stroke-width="1.3"/>
<rect x="289.4" y="666.4" width="17.3" height="17.3" fill="#9e5bce" fill-opacity="0.85" stroke="#9e5bce" stroke-opacity="0.68" stroke-width="1.3"/>
<rect x="321.4" y="666.4" width="17.3" height="17.3" fill="#a1601a" fill-opacity="0.85" stroke="#a1601a" stroke-opacity="0.68" stroke-width="1.3"/>
<rect x="348.4" y="666.4" width="17.3" height="17.3" fill="#eb0e02" fill-opacity="0.85" stroke="#eb0e02" stroke-opacity="0.68" stroke-width="1.3"/>
<rect x="345.4" y="666.4" width="17.3" height="17.3" fill="#a1601a" fill-opacity="0.85" stroke="#a1601a" stroke-opacity="0.68" stroke-width="1.3"/>
<rect x="364.4" y="666.4" width="17.3" height="17.3" fill="#e98f37" fill-opacity="0.85" stroke="#e98f37" stroke-opacity="0.68" stroke-width="1.3"/>
<rect x="381.9" y="666.4" width="17.3" height="17.3" fill="#a1601a" fill-opacity="0.85" stroke="#a1601a" stroke-opacity="0.68" stroke-width="1.3"/>
<rect x="393.0" y="666.4" width="17.3" height="17.3" fill="#a1601a" fill-opacity="0.85" stroke="#a1601a" stroke-opacity="0.68" stroke-width="1.3"/>
<rect x="410.4" y="666.4" width="17.3" height="17.3" fill="#a1601a" fill-opacity="0.85" stroke="#a1601a" stroke-opacity="0.68" stroke-width="1.3"/>
<rect x="438.4" y="666.4" width="17.3" height="17.3" fill="#a1601a" fill-opacity="0.85" stroke="#a1601a" stroke-opacity="0.68" stroke-width="1.3"/>
<rect x="413.9" y="666.4" width="17.3" height="17.3" fill="#f960dc" fill-opacity="0.85" stroke="#f960dc" stroke-opacity="0.68" stroke-width="1.3"/>
<rect x="430.4" y="666.4" width="17.3" height="17.3" fill="#f960dc" fill-opacity="0.85" stroke="#f960dc" stroke-opacity="0.68" stroke-width="1.3"/>
<rect x="468.8" y="666.4" width="17.3" height="17.3" fill="#e98f37" fill-opacity="0.85" stroke="#e98f37" stroke-opacity="0.68" stroke-width="1.3"/>
<rect x="473.2" y="666.4" width="17.3" height="17.3" fill="#e98f37" fill-opacity="0.85" stroke="#e98f37" stroke-opacity="0.68" stroke-width="1.3"/>
<rect x="497.9" y="666.4" width="17.3" height="17.3" fill="#445e99" fill-opacity="0.85" stroke="#445e99" stroke-opacity="0.68" stroke-width="1.3"/>
<circle cx="119.5" cy="850.0" r="9.0" fill="#445e99" fill-opacity="0.85" stroke="#445e99" stroke-opacity="0.68" stroke-width="1.3"/>
<circle cx="128.0" cy="850.0" r="9.0" fill="#445e99" fill-opacity="0.85" stroke="#445e99" stroke-opacity="0.68" stroke-width="1.3"/>
<circle cx="131.0" cy="850.0" r="9.0" fill="#445e99" fill-opacity="0.85" stroke="#445e99" stroke-opacity="0.68" stroke-width="1.3"/>
<circle cx="134.0" cy="850.0" r="9.0" fill="#445e99" fill-opacity="0.85" stroke="#445e99" stroke-opacity="0.68" stroke-width="1.3"/>
<circle cx="137.0" cy="850.0" r="9.0" fill="#445e99" fill-opacity="0.85" stroke="#445e99" stroke-opacity="0.68" stroke-width="1.3"/>
<circle cx="139.8" cy="850.0" r="9.0" fill="#445e99" fill-opacity="0.85" stroke="#445e99" stroke-opacity="0.68" stroke-width="1.3"/>
<circle cx="155.0" cy="850.0" r="9.0" fill="#445e99" fill-opacity="0.85" stroke="#445e99" stroke-opacity="0.68" stroke-width="1.3"/>
<circle cx="170.2" cy="850.0" r="9.0" fill="#445e99" fill-opacity="0.85" stroke="#445e99" stroke-opacity="0.68" stroke-width="1.3"/>
<circle cx="173.0" cy="850.0" r="9.0" fill="#445e99" fill-opacity="0.85" stroke="#445e99" stroke-opacity="0.68" stroke-width="1.3"/>
<circle cx="176.0" cy="850.0" r="9.0" fill="#445e99" fill-opacity="0.85" stroke="#445e99" stroke-opacity="0.68" stroke-width="1.3"/>
<circle cx="184.7" cy="850.0" r="9.0" fill="#445e99" fill-opacity="0.85" stroke="#445e99" stroke-opacity="0.68" stroke-width="1.3"/>
<circle cx="222.4" cy="850.0" r="9.0" fill="#eb0e02" fill-opacity="0.85" stroke="#eb0e02" stroke-opacity="0.68" stroke-width="1.3"/>
<circle cx="211.3" cy="825.0" r="9.0" fill="#47a734" fill-opacity="0.85" stroke="#47a734" stroke-opacity="0.68" stroke-width="1.3"/>
<circle cx="215.0" cy="825.0" r="9.0" fill="#47a734" fill-opacity="0.85" stroke="#47a734" stroke-opacity="0.68" stroke-width="1.3"/>
<circle cx="219.8" cy="825.0" r="9.0" fill="#47a734" fill-opacity="0.85" stroke="#47a734" stroke-opacity="0.68" stroke-width="1.3"/>
<circle cx="236.8" cy="825.0" r="9.0" fill="#47a734" fill-opacity="0.85" stroke="#47a734" stroke-opacity="0.68" stroke-width="1.3"/>
<circle cx="240.5" cy="825.0" r="9.0" fill="#47a734" fill-opacity="0.85" stroke="#47a734" stroke-opacity="0.68" stroke-width="1.3"/>
<circle cx="244.0" cy="825.0" r="9.0" fill="#47a734" fill-opacity="0.85" stroke="#47a734" stroke-opacity="0.68" stroke-width="1.3"/>
<circle cx="219.7" cy="839.0" r="9.0" fill="#a1601a" fill-opacity="0.85" stroke="#a1601a" stroke-opacity="0.68" stroke-width="1.3"/>
<circle cx="229.5" cy="839.0" r="9.0" fill="#a1601a" fill-opacity="0.85" stroke="#a1601a" stroke-opacity="0.68" stroke-width="1.3"/>
<circle cx="233.0" cy="839.0" r="9.0" fill="#a1601a" fill-opacity="0.85" stroke="#a1601a" stroke-opacity="0.68" stroke-width="1.3"/>
<circle cx="237.0" cy="839.0" r="9.0" fill="#a1601a" fill-opacity="0.85" stroke="#a1601a" stroke-opacity="0.68" stroke-width="1.3"/>
<circle cx="241.0" cy="839.0" r="9.0" fill="#a1601a" fill-opacity="0.85" stroke="#a1601a" stroke-opacity="0.68" stroke-width="1.3"/>
<circle cx="245.0" cy="839.0" r="9.0" fill="#a1601a" fill-opacity="0.85" stroke="#a1601a" stroke-opacity="0.68" stroke-width="1.3"/>
<circle cx="249.0" cy="839.0" r="9.0" fill="#a1601a" fill-opacity="0.85" stroke="#a1601a" stroke-opacity="0.68" stroke-width="1.3"/>
<circle cx="253.0" cy="839.0" r="9.0" fill="#a1601a" fill-opacity="0.85" stroke="#a1601a" stroke-opacity="0.68" stroke-width="1.3"/>
<circle cx="257.0" cy="839.0" r="9.0" fill="#a1601a" fill-opacity="0.85" stroke="#a1601a" stroke-opacity="0.68" stroke-width="1.3"/>
<circle cx="261.0" cy="839.0" r="9.0" fill="#a1601a" fill-opacity="0.85" stroke="#a1601a" stroke-opacity="0.68" stroke-width="1.3"/>
<circle cx="265.5" cy="839.0" r="9.0" fill="#a1601a" fill-opacity="0.85" stroke="#a1601a" stroke-opacity="0.68" stroke-width="1.3"/>
<circle cx="269.0" cy="839.0" r="9.0" fill="#a1601a" fill-opacity="0.85" stroke="#a1601a" stroke-opacity="0.68" stroke-width="1.3"/>
<circle cx="297.8" cy="825.0" r="9.0" fill="#e98f37" fill-opacity="0.85" stroke="#e98f37" stroke-opacity="0.68" stroke-width="1.3"/>
<circle cx="333.0" cy="825.0" r="9.0" fill="#e98f37" fill-opacity="0.85" stroke="#e98f37" stroke-opacity="0.68" stroke-width="1.3"/>
<circle cx="360.4" cy="825.0" r="9.0" fill="#e98f37" fill-opacity="0.85" stroke="#e98f37" stroke-opacity="0.68" stroke-width="1.3"/>
<circle cx="369.0" cy="825.0" r="9.0" fill="#e98f37" fill-opacity="0.85" stroke="#e98f37" stroke-opacity="0.68" stroke-width="1.3"/>
<circle cx="427.3" cy="825.0" r="9.0" fill="#e98f37" fill-opacity="0.85" stroke="#e98f37" stroke-opacity="0.68" stroke-width="1.3"/>
<circle cx="312.0" cy="850.0" r="9.0" fill="#445e99" fill-opacity="0.85" stroke="#445e99" stroke-opacity="0.68" stroke-width="1.3"/>
<circle cx="318.0" cy="850.0" r="9.0" fill="#445e99" fill-opacity="0.85" stroke="#445e99" stroke-opacity="0.68" stroke-width="1.3"/>
<circle cx="324.0" cy="850.0" r="9.0" fill="#445e99" fill-opacity="0.85" stroke="#445e99" stroke-opacity="0.68" stroke-width="1.3"/>
<circle cx="330.0" cy="850.0" r="9.0" fill="#445e99" fill-opacity="0.85" stroke="#445e99" stroke-opacity="0.68" stroke-width="1.3"/>
<circle cx="336.0" cy="850.0" r="9.0" fill="#445e99" fill-opacity="0.85" stroke="#445e99" stroke-opacity="0.68" stroke-width="1.3"/>
<circle cx="342.0" cy="850.0" r="9.0" fill="#445e99" fill-opacity="0.85" stroke="#445e99" stroke-opacity="0.68" stroke-width="1.3"/>
<circle cx="348.0" cy="850.0" r="9.0" fill="#445e99" fill-opacity="0.85" stroke="#445e99" stroke-opacity="0.68" stroke-width="1.3"/>
<circle cx="354.0" cy="850.0" r="9.0" fill="#445e99" fill-opacity="0.85" stroke="#445e99" stroke-opacity="0.68" stroke-width="1.3"/>
<circle cx="360.0" cy="850.0" r="9.0" fill="#445e99" fill-opacity="0.85" stroke="#445e99" stroke-opacity="0.68" stroke-width="1.3"/>
<circle cx="366.0" cy="850.0" r="9.0" fill="#445e99" fill-opacity="0.85" stroke="#445e99" stroke-opacity="0.68" stroke-width="1.3"/>
<circle cx="372.0" cy="850.0" r="9.0" fill="#445e99" fill-opacity="0.85" stroke="#445e99" stroke-opacity="0.68" stroke-width="1.3"/>
<circle cx="378.0" cy="850.0" r="9.0" fill="#445e99" fill-opacity="0.85" stroke="#445e99" stroke-opacity="0.68" stroke-width="1.3"/>
<circle cx="384.0" cy="850.0" r="9.0" fill="#445e99" fill-opacity="0.85" stroke="#445e99" stroke-opacity="0.68" stroke-width="1.3"/>
<circle cx="390.0" cy="850.0" r="9.0" fill="#445e99" fill-opacity="0.85" stroke="#445e99" stroke-opacity="0.68" stroke-width="1.3"/>
<circle cx="396.0" cy="850.0" r="9.0" fill="#445e99" fill-opacity="0.85" stroke="#445e99" stroke-opacity="0.68" stroke-width="1.3"/>
<circle cx="402.0" cy="850.0" r="9.0" fill="#445e99" fill-opacity="0.85" stroke="#445e99" stroke-opacity="0.68" stroke-width="1.3"/>
<circle cx="408.0" cy="850.0" r="9.0" fill="#445e99" fill-opacity="0.85" stroke="#445e99" stroke-opacity="0.68" stroke-width="1.3"/>
<circle cx="414.0" cy="850.0" r="9.0" fill="#445e99" fill-opacity="0.85" stroke="#445e99" stroke-opacity="0.68" stroke-width="1.3"/>
<circle cx="420.0" cy="850.0" r="9.0" fill="#445e99" fill-opacity="0.85" stroke="#445e99" stroke-opacity="0.68" stroke-width="1.3"/>
<circle cx="426.0" cy="850.0" r="9.0" fill="#445e99" fill-opacity="0.85" stroke="#445e99" stroke-opacity="0.68" stroke-width="1.3"/>
<circle cx="432.0" cy="850.0" r="9.0" fill="#445e99" fill-opacity="0.85" stroke="#445e99" stroke-opacity="0.68" stroke-width="1.3"/>
<circle cx="438.0" cy="850.0" r="9.0" fill="#445e99" fill-opacity="0.85" stroke="#445e99" stroke-opacity="0.68" stroke-width="1.3"/>
<circle cx="444.0" cy="850.0" r="9.0" fill="#445e99" fill-opacity="0.85" stroke="#445e99" stroke-opacity="0.68" stroke-width="1.3"/>
<circle cx="450.0" cy="850.0" r="9.0" fill="#445e99" fill-opacity="0.85" stroke="#445e99" stroke-opacity="0.68" stroke-width="1.3"/>
<circle cx="456.0" cy="850.0" r="9.0" fill="#445e99" fill-opacity="0.85" stroke="#445e99" stroke-opacity="0.68" stroke-width="1.3"/>
<circle cx="462.0" cy="850.0" r="9.0" fill="#445e99" fill-opacity="0.85" stroke="#445e99" stroke-opacity="0.68" stroke-width="1.3"/>
<circle cx="470.0" cy="850.0" r="9.0" fill="#445e99" fill-opacity="0.85" stroke="#445e99" stroke-opacity="0.68" stroke-width="1.3"/>
<circle cx="485.0" cy="850.0" r="9.0" fill="#445e99" fill-opacity="0.85" stroke="#445e99" stroke-opacity="0.68" stroke-width="1.3"/>
<circle cx="498.0" cy="850.0" r="9.0" fill="#445e99" fill-opacity="0.85" stroke="#445e99" stroke-opacity="0.68" stroke-width="1.3"/>
<circle cx="360.0" cy="850.0" r="9.0" fill="#f960dc" fill-opacity="0.85" stroke="#f960dc" stroke-opacity="0.68" stroke-width="1.3"/>
<circle cx="372.0" cy="850.0" r="9.0" fill="#e8ca26" fill-opacity="0.85" stroke="#e8ca26" stroke-opacity="0.68" stroke-width="1.3"/>
<circle cx="396.0" cy="850.0" r="9.0" fill="#c4cedc" fill-opacity="0.85" stroke="#c4cedc" stroke-opacity="0.68" stroke-width="1.3"/>
<circle cx="400.0" cy="850.0" r="9.0" fill="#47a734" fill-opacity="0.85" stroke="#47a734" stroke-opacity="0.68" stroke-width="1.3"/>
<circle cx="438.0" cy="850.0" r="9.0" fill="#5ec6d9" fill-opacity="0.85" stroke="#5ec6d9" stroke-opacity="0.68" stroke-width="1.3"/>
<circle cx="460.0" cy="850.0" r="9.0" fill="#f960dc" fill-opacity="0.85" stroke="#f960dc" stroke-opacity="0.68" stroke-width="1.3"/>
<circle cx="472.0" cy="850.0" r="9.0" fill="#f960dc" fill-opacity="0.85" stroke="#f960dc" stroke-opacity="0.68" stroke-width="1.3"/>
<circle cx="484.0" cy="850.0" r="9.0" fill="#f960dc" fill-opacity="0.85" stroke="#f960dc" stroke-opacity="0.68" stroke-width="1.3"/>
<circle cx="496.0" cy="850.0" r="9.0" fill="#f960dc" fill-opacity="0.85" stroke="#f960dc" stroke-opacity="0.68" stroke-width="1.3"/>
<circle cx="508.0" cy="850.0" r="9.0" fill="#f960dc" fill-opacity="0.85" stroke="#f960dc" stroke-opacity="0.68" stroke-width="1.3"/>
<circle cx="518.0" cy="850.0" r="9.0" fill="#f960dc" fill-opacity="0.85" stroke="#f960dc" stroke-opacity="0.68" stroke-width="1.3"/>
<circle cx="318.0" cy="839.0" r="9.0" fill="#c4cedc" fill-opacity="0.85" stroke="#c4cedc" stroke-opacity="0.68" stroke-width="1.3"/>
<circle cx="330.0" cy="839.0" r="9.0" fill="#a1601a" fill-opacity="0.85" stroke="#a1601a" stroke-opacity="0.68" stroke-width="1.3"/>
<circle cx="336.0" cy="839.0" r="9.0" fill="#a1601a" fill-opacity="0.85" stroke="#a1601a" stroke-opacity="0.68" stroke-width="1.3"/>
<circle cx="348.0" cy="839.0" r="9.0" fill="#c4cedc" fill-opacity="0.85" stroke="#c4cedc" stroke-opacity="0.68" stroke-width="1.3"/>
<circle cx="365.0" cy="839.0" r="9.0" fill="#a1601a" fill-opacity="0.85" stroke="#a1601a" stroke-opacity="0.68" stroke-width="1.3"/>
<circle cx="379.0" cy="839.0" r="9.0" fill="#e98f37" fill-opacity="0.85" stroke="#e98f37" stroke-opacity="0.68" stroke-width="1.3"/>
<circle cx="394.0" cy="839.0" r="9.0" fill="#c4cedc" fill-opacity="0.85" stroke="#c4cedc" stroke-opacity="0.68" stroke-width="1.3"/>
<circle cx="400.0" cy="839.0" r="9.0" fill="#f960dc" fill-opacity="0.85" stroke="#f960dc" stroke-opacity="0.68" stroke-width="1.3"/>
<circle cx="407.0" cy="839.0" r="9.0" fill="#e98f37" fill-opacity="0.85" stroke="#e98f37" stroke-opacity="0.68" stroke-width="1.3"/>
<circle cx="420.0" cy="839.0" r="9.0" fill="#a1601a" fill-opacity="0.85" stroke="#a1601a" stroke-opacity="0.68" stroke-width="1.3"/>
<circle cx="430.0" cy="839.0" r="9.0" fill="#f960dc" fill-opacity="0.85" stroke="#f960dc" stroke-opacity="0.68" stroke-width="1.3"/>
<circle cx="438.0" cy="839.0" r="9.0" fill="#5ec6d9" fill-opacity="0.85" stroke="#5ec6d9" stroke-opacity="0.68" stroke-width="1.3"/>
<circle cx="436.0" cy="839.0" r="9.0" fill="#c4cedc" fill-opacity="0.85" stroke="#c4cedc" stroke-opacity="0.68" stroke-width="1.3"/>
<circle cx="449.0" cy="839.0" r="9.0" fill="#e98f37" fill-opacity="0.85" stroke="#e98f37" stroke-opacity="0.68" stroke-width="1.3"/>
<circle cx="459.0" cy="839.0" r="9.0" fill="#a1601a" fill-opacity="0.85" stroke="#a1601a" stroke-opacity="0.68" stroke-width="1.3"/>
<circle cx="471.0" cy="839.0" r="9.0" fill="#e8ca26" fill-opacity="0.85" stroke="#e8ca26" stroke-opacity="0.68" stroke-width="1.3"/>
<circle cx="478.0" cy="839.0" r="9.0" fill="#f960dc" fill-opacity="0.85" stroke="#f960dc" stroke-opacity="0.68" stroke-width="1.3"/>
<circle cx="285.6" cy="839.0" r="9.0" fill="#9e5bce" fill-opacity="0.85" stroke="#9e5bce" stroke-opacity="0.68" stroke-width="1.3"/>
<circle cx="285.6" cy="850.0" r="9.0" fill="#9e5bce" fill-opacity="0.85" stroke="#9e5bce" stroke-opacity="0.68" stroke-width="1.3"/>
<circle cx="300.0" cy="850.0" r="9.0" fill="#eb0e02" fill-opacity="0.85" stroke="#eb0e02" stroke-opacity="0.68" stroke-width="1.3"/>
<circle cx="307.0" cy="839.0" r="9.0" fill="#9e5bce" fill-opacity="0.85" stroke="#9e5bce" stroke-opacity="0.68" stroke-width="1.3"/>
<circle cx="307.0" cy="849.0" r="9.0" fill="#9e5bce" fill-opacity="0.85" stroke="#9e5bce" stroke-opacity="0.68" stroke-width="1.3"/>
<circle cx="386.0" cy="825.0" r="9.0" fill="#47a734" fill-opacity="0.85" stroke="#47a734" stroke-opacity="0.68" stroke-width="1.3"/>
<circle cx="391.0" cy="825.0" r="9.0" fill="#47a734" fill-opacity="0.85" stroke="#47a734" stroke-opacity="0.68" stroke-width="1.3"/>
<circle cx="396.0" cy="825.0" r="9.0" fill="#47a734" fill-opacity="0.85" stroke="#47a734" stroke-opacity="0.68" stroke-width="1.3"/>
<circle cx="401.0" cy="825.0" r="9.0" fill="#47a734" fill-opacity="0.85" stroke="#47a734" stroke-opacity="0.68" stroke-width="1.3"/>
<circle cx="406.0" cy="825.0" r="9.0" fill="#47a734" fill-opacity="0.85" stroke="#47a734" stroke-opacity="0.68" stroke-width="1.3"/>
<circle cx="410.0" cy="825.0" r="9.0" fill="#47a734" fill-opacity="0.85" stroke="#47a734" stroke-opacity="0.68" stroke-width="1.3"/>
<circle cx="414.0" cy="825.0" r="9.0" fill="#47a734" fill-opacity="0.85" stroke="#47a734" stroke-opacity="0.68" stroke-width="1.3"/>
<circle cx="418.0" cy="825.0" r="9.0" fill="#47a734" fill-opacity="0.85" stroke="#47a734" stroke-opacity="0.68" stroke-width="1.3"/>
<circle cx="420.5" cy="825.0" r="9.0" fill="#47a734" fill-opacity="0.85" stroke="#47a734" stroke-opacity="0.68" stroke-width="1.3"/>
<circle cx="335.0" cy="850.0" r="9.0" fill="#eb0e02" fill-opacity="0.85" stroke="#eb0e02" stroke-opacity="0.68" stroke-width="1.3"/>
<circle cx="385.0" cy="850.0" r="9.0" fill="#eb0e02" fill-opacity="0.85" stroke="#eb0e02" stroke-opacity="0.68" stroke-width="1.3"/>
<circle cx="413.0" cy="848.0" r="9.0" fill="#eb0e02" fill-opacity="0.85" stroke="#eb0e02" stroke-opacity="0.68" stroke-width="1.3"/>
<circle cx="473.7" cy="848.0" r="9.0" fill="#eb0e02" fill-opacity="0.85" stroke="#eb0e02" stroke-opacity="0.68" stroke-width="1.3"/>
<circle cx="498.0" cy="850.0" r="9.0" fill="#445e99" fill-opacity="0.85" stroke="#445e99" stroke-opacity="0.68" stroke-width="1.3"/>
<circle cx="536.0" cy="850.0" r="9.0" fill="#eb0e02" fill-opacity="0.85" stroke="#eb0e02" stroke-opacity="0.68" stroke-width="1.3"/>
<circle cx="549.0" cy="850.0" r="9.0" fill="#445e99" fill-opacity="0.85" stroke="#445e99" stroke-opacity="0.68" stroke-width="1.3"/>
<circle cx="553.0" cy="850.0" r="9.0" fill="#445e99" fill-opacity="0.85" stroke="#445e99" stroke-opacity="0.68" stroke-width="1.3"/>
<circle cx="557.0" cy="850.0" r="9.0" fill="#445e99" fill-opacity="0.85" stroke="#445e99" stroke-opacity="0.68" stroke-width="1.3"/>
<circle cx="561.0" cy="850.0" r="9.0" fill="#445e99" fill-opacity="0.85" stroke="#445e99" stroke-opacity="0.68" stroke-width="1.3"/>
<circle cx="565.0" cy="850.0" r="9.0" fill="#445e99" fill-opacity="0.85" stroke="#445e99" stroke-opacity="0.68" stroke-width="1.3"/>
<circle cx="569.0" cy="850.0" r="9.0" fill="#445e99" fill-opacity="0.85" stroke="#445e99" stroke-opacity="0.68" stroke-width="1.3"/>
<circle cx="573.0" cy="850.0" r="9.0" fill="#445e99" fill-opacity="0.85" stroke="#445e99" stroke-opacity="0.68" stroke-width="1.3"/>
<circle cx="577.0" cy="850.0" r="9.0" fill="#445e99" fill-opacity="0.85" stroke="#445e99" stroke-opacity="0.68" stroke-width="1.3"/>
<circle cx="581.6" cy="850.0" r="9.0" fill="#445e99" fill-opacity="0.85" stroke="#445e99" stroke-opacity="0.68" stroke-width="1.3"/>
<circle cx="555.0" cy="850.0" r="9.0" fill="#5ec6d9" fill-opacity="0.85" stroke="#5ec6d9" stroke-opacity="0.68" stroke-width="1.3"/>
<circle cx="611.6" cy="850.0" r="9.0" fill="#5ec6d9" fill-opacity="0.85" stroke="#5ec6d9" stroke-opacity="0.68" stroke-width="1.3"/>
<circle cx="634.2" cy="850.0" r="9.0" fill="#445e99" fill-opacity="0.85" stroke="#445e99" stroke-opacity="0.68" stroke-width="1.3"/>
<circle cx="546.8" cy="839.0" r="9.0" fill="#f960dc" fill-opacity="0.85" stroke="#f960dc" stroke-opacity="0.68" stroke-width="1.3"/>
<circle cx="492.0" cy="839.0" r="9.0" fill="#5ec6d9" fill-opacity="0.85" stroke="#5ec6d9" stroke-opacity="0.68" stroke-width="1.3"/>
<circle cx="496.3" cy="839.0" r="9.0" fill="#5ec6d9" fill-opacity="0.85" stroke="#5ec6d9" stroke-opacity="0.68" stroke-width="1.3"/>
<circle cx="500.6" cy="839.0" r="9.0" fill="#5ec6d9" fill-opacity="0.85" stroke="#5ec6d9" stroke-opacity="0.68" stroke-width="1.3"/>
<circle cx="504.9" cy="839.0" r="9.0" fill="#5ec6d9" fill-opacity="0.85" stroke="#5ec6d9" stroke-opacity="0.68" stroke-width="1.3"/>
<circle cx="509.2" cy="839.0" r="9.0" fill="#5ec6d9" fill-opacity="0.85" stroke="#5ec6d9" stroke-opacity="0.68" stroke-width="1.3"/>
<circle cx="513.5" cy="839.0" r="9.0" fill="#5ec6d9" fill-opacity="0.85" stroke="#5ec6d9" stroke-opacity="0.68" stroke-width="1.3"/>
<circle cx="517.8" cy="839.0" r="9.0" fill="#5ec6d9" fill-opacity="0.85" stroke="#5ec6d9" stroke-opacity="0.68" stroke-width="1.3"/>
<circle cx="522.1" cy="839.0" r="9.0" fill="#5ec6d9" fill-opacity="0.85" stroke="#5ec6d9" stroke-opacity="0.68" stroke-width="1.3"/>
<circle cx="526.4" cy="839.0" r="9.0" fill="#5ec6d9" fill-opacity="0.85" stroke="#5ec6d9" stroke-opacity="0.68" stroke-width="1.3"/>
<circle cx="530.7" cy="839.0" r="9.0" fill="#5ec6d9" fill-opacity="0.85" stroke="#5ec6d9" stroke-opacity="0.68" stroke-width="1.3"/>
<circle cx="535.0" cy="839.0" r="9.0" fill="#5ec6d9" fill-opacity="0.85" stroke="#5ec6d9" stroke-opacity="0.68" stroke-width="1.3"/>
<circle cx="539.3" cy="839.0" r="9.0" fill="#5ec6d9" fill-opacity="0.85" stroke="#5ec6d9" stroke-opacity="0.68" stroke-width="1.3"/>
<circle cx="557.0" cy="839.0" r="9.0" fill="#5ec6d9" fill-opacity="0.85" stroke="#5ec6d9" stroke-opacity="0.68" stroke-width="1.3"/>
<circle cx="561.3" cy="839.0" r="9.0" fill="#5ec6d9" fill-opacity="0.85" stroke="#5ec6d9" stroke-opacity="0.68" stroke-width="1.3"/>
<circle cx="565.6" cy="839.0" r="9.0" fill="#5ec6d9" fill-opacity="0.85" stroke="#5ec6d9" stroke-opacity="0.68" stroke-width="1.3"/>
<circle cx="569.9" cy="839.0" r="9.0" fill="#5ec6d9" fill-opacity="0.85" stroke="#5ec6d9" stroke-opacity="0.68" stroke-width="1.3"/>
<circle cx="574.2" cy="839.0" r="9.0" fill="#5ec6d9" fill-opacity="0.85" stroke="#5ec6d9" stroke-opacity="0.68" stroke-width="1.3"/>
<circle cx="578.5" cy="839.0" r="9.0" fill="#5ec6d9" fill-opacity="0.85" stroke="#5ec6d9" stroke-opacity="0.68" stroke-width="1.3"/>
<circle cx="582.8" cy="839.0" r="9.0" fill="#5ec6d9" fill-opacity="0.85" stroke="#5ec6d9" stroke-opacity="0.68" stroke-width="1.3"/>
<circle cx="587.1" cy="839.0" r="9.0" fill="#5ec6d9" fill-opacity="0.85" stroke="#5ec6d9" stroke-opacity="0.68" stroke-width="1.3"/>
<circle cx="591.4" cy="839.0" r="9.0" fill="#5ec6d9" fill-opacity="0.85" stroke="#5ec6d9" stroke-opacity="0.68" stroke-width="1.3"/>
<circle cx="595.7" cy="839.0" r="9.0" fill="#5ec6d9" fill-opacity="0.85" stroke="#5ec6d9" stroke-opacity="0.68" stroke-width="1.3"/>
<circle cx="600.0" cy="839.0" r="9.0" fill="#5ec6d9" fill-opacity="0.85" stroke="#5ec6d9" stroke-opacity="0.68" stroke-width="1.3"/>
<circle cx="604.3" cy="839.0" r="9.0" fill="#5ec6d9" fill-opacity="0.85" stroke="#5ec6d9" stroke-opacity="0.68" stroke-width="1.3"/>
<circle cx="608.6" cy="839.0" r="9.0" fill="#5ec6d9" fill-opacity="0.85" stroke="#5ec6d9" stroke-opacity="0.68" stroke-width="1.3"/>
<circle cx="612.9" cy="839.0" r="9.0" fill="#5ec6d9" fill-opacity="0.85" stroke="#5ec6d9" stroke-opacity="0.68" stroke-width="1.3"/>
<circle cx="617.2" cy="839.0" r="9.0" fill="#5ec6d9" fill-opacity="0.85" stroke="#5ec6d9" stroke-opacity="0.68" stroke-width="1.3"/>
<circle cx="621.5" cy="839.0" r="9.0" fill="#5ec6d9" fill-opacity="0.85" stroke="#5ec6d9" stroke-opacity="0.68" stroke-width="1.3"/>
<circle cx="625.8" cy="839.0" r="9.0" fill="#5ec6d9" fill-opacity="0.85" stroke="#5ec6d9" stroke-opacity="0.68" stroke-width="1.3"/>
<circle cx="630.1" cy="839.0" r="9.0" fill="#5ec6d9" fill-opacity="0.85" stroke="#5ec6d9" stroke-opacity="0.68" stroke-width="1.3"/>
<circle cx="634.4" cy="839.0" r="9.0" fill="#5ec6d9" fill-opacity="0.85" stroke="#5ec6d9" stroke-opacity="0.68" stroke-width="1.3"/>
<circle cx="640.0" cy="839.0" r="9.0" fill="#5ec6d9" fill-opacity="0.85" stroke="#5ec6d9" stroke-opacity="0.68" stroke-width="1.3"/>
<circle cx="648.5" cy="839.0" r="9.0" fill="#5ec6d9" fill-opacity="0.85" stroke="#5ec6d9" stroke-opacity="0.68" stroke-width="1.3"/>
<circle cx="657.0" cy="839.0" r="9.0" fill="#5ec6d9" fill-opacity="0.85" stroke="#5ec6d9" stroke-opacity="0.68" stroke-width="1.3"/>
<circle cx="666.0" cy="839.0" r="9.0" fill="#5ec6d9" fill-opacity="0.85" stroke="#5ec6d9" stroke-opacity="0.68" stroke-width="1.3"/>
<circle cx="674.5" cy="839.0" r="9.0" fill="#5ec6d9" fill-opacity="0.85" stroke="#5ec6d9" stroke-opacity="0.68" stroke-width="1.3"/>
<circle cx="683.2" cy="839.0" r="9.0" fill="#5ec6d9" fill-opacity="0.85" stroke="#5ec6d9" stroke-opacity="0.68" stroke-width="1.3"/>
<circle cx="494.5" cy="839.0" r="9.0" fill="#a1601a" fill-opacity="0.85" stroke="#a1601a" stroke-opacity="0.68" stroke-width="1.3"/>
</g>
<g fill="#000">
<rect x="90.1" y="30.8" width="622.5" height="3.5"/>
<rect x="90.1" y="932.2" width="622.5" height="3.5"/>
<rect x="90.1" y="30.8" width="2.8" height="904.9"/>
<rect x="709.2" y="30.8" width="3.4" height="904.9"/>
</g>
<g stroke="#000" stroke-width="3.8">
<line x1="100.1" x2="100.1" y1="936" y2="943.5"/>
<line x1="217.4" x2="217.4" y1="936" y2="943.5"/>
<line x1="335.6" x2="335.6" y1="936" y2="943.5"/>
<line x1="452.9" x2="452.9" y1="936" y2="943.5"/>
<line x1="570.3" x2="570.3" y1="936" y2="943.5"/>
<line x1="688.0" x2="688.0" y1="936" y2="943.5"/>
<line x1="82.8" x2="89.8" y1="893.7" y2="893.7"/>
<line x1="82.8" x2="89.8" y1="620.2" y2="620.2"/>
<line x1="82.8" x2="89.8" y1="346.6" y2="346.6"/>
<line x1="82.8" x2="89.8" y1="73.0" y2="73.0"/>
</g>
<g font-size="25.6" fill="#2b2b2b" stroke="#2b2b2b" stroke-width="0.9" paint-order="stroke" stroke-linejoin="round" text-anchor="middle">
<text x="99.8" y="970.3">300</text>
<text x="217.1" y="970.3">400</text>
<text x="335.3" y="970.3">500</text>
<text x="452.6" y="970.3">600</text>
<text x="570.0" y="970.3">700</text>
<text x="687.7" y="970.3">800</text>
</g>
<g font-size="25.6" fill="#2b2b2b" stroke="#2b2b2b" stroke-width="0.9" paint-order="stroke" stroke-linejoin="round" text-anchor="end">
<text x="76.3" y="904.9">0</text>
<text x="76.3" y="631.4">1</text>
<text x="76.3" y="357.8">2</text>
<text x="76.3" y="84.2">3</text>
</g>
<g font-size="32" fill="#000" stroke="#000" stroke-width="1.25" paint-order="stroke" stroke-linejoin="round">
<text x="401.3" y="1008.3" text-anchor="middle" font-size="32.4">Cost ($/tcs)</text>
<text transform="translate(47.3,482.6) rotate(-90)" text-anchor="middle">Plant CO2 intensity (tCO2/tcs)</text>
<text x="759.7" y="84.5" font-size="32.5" stroke-width="1.2">Technology</text>
<text x="758.2" y="396.8" font-size="32.5" stroke-width="1.2">Region</text>
<text x="1904.3" y="390.4" stroke-width="1.2">Technology</text>
<text x="1544" y="966" text-anchor="middle">Capacity-weighted cost($/tcs)</text>
<text transform="translate(1169.3,484.6) rotate(-90)" text-anchor="middle">Regional CO2 intensity (tCO2/tcs)</text>
</g>
<g font-size="41.5" font-weight="bold" fill="#000">
<text x="-0.4" y="30.7" textLength="21.8" lengthAdjust="spacingAndGlyphs">a</text>
<text x="1121.4" y="31.3">b</text>
</g>
<path d="M770.8 134.9L796.8 134.9L783.8 112.4Z" fill="#3a3a3a"/>
<rect x="773.7" y="168.5" width="19.5" height="19.3" fill="#3a3a3a"/>
<circle cx="783.6" cy="227.7" r="9.8" fill="#3a3a3a"/>
<path d="M770.00 277.30L772.40 275.00L795.40 275.00L797.80 277.30L795.40 279.60L772.40 279.60ZM783.90 262.20L786.20 264.60L786.20 290.00L783.90 292.40L781.60 290.00L781.60 264.60ZM776.19 266.34L794.86 285.01L791.61 288.26L772.94 269.59ZM772.94 285.01L791.61 266.34L794.86 269.59L776.19 288.26Z" fill="#222" fill-opacity="1"/>
<g font-size="25.6" fill="#000" stroke="#000" stroke-width="1.0" paint-order="stroke" stroke-linejoin="round">
<text x="825" y="137.4">BF-BOF</text>
<text x="825" y="187.2">DRI-EAF</text>
<text x="825" y="237.0">Scrap-EAF</text>
<text x="825" y="286.9">BF-OHF</text>
<text x="825" y="448.1">Africa</text>
<text x="825" y="498.0">China</text>
<text x="825" y="547.9">EU27 and UK</text>
<text x="825" y="597.8">India</text>
<text x="825" y="647.7">Japan and Korea</text>
<text x="825" y="697.6">Latin America</text>
<text x="825" y="747.5">Middle East</text>
<text x="825" y="797.4">North America</text>
<text x="825" y="847.3">Other Asia and Pacific</text>
<text x="825" y="897.2">Other Europe and CIS</text>
</g>
<circle cx="784.1" cy="438.4" r="11.0" fill="#9e5bce" fill-opacity="0.88"/><circle cx="784.1" cy="438.4" r="5.6" fill="#fff" fill-opacity="0.13"/>
<circle cx="784.1" cy="488.3" r="11.0" fill="#5ec6d9" fill-opacity="0.88"/><circle cx="784.1" cy="488.3" r="5.6" fill="#fff" fill-opacity="0.13"/>
<circle cx="784.1" cy="538.2" r="11.0" fill="#445e99" fill-opacity="0.88"/><circle cx="784.1" cy="538.2" r="5.6" fill="#fff" fill-opacity="0.13"/>
<circle cx="784.1" cy="588.1" r="11.0" fill="#47a734" fill-opacity="0.88"/><circle cx="784.1" cy="588.1" r="5.6" fill="#fff" fill-opacity="0.13"/>
<circle cx="784.1" cy="638.0" r="11.0" fill="#e8ca26" fill-opacity="0.88"/><circle cx="784.1" cy="638.0" r="5.6" fill="#fff" fill-opacity="0.13"/>
<circle cx="784.1" cy="687.9" r="11.0" fill="#e98f37" fill-opacity="0.88"/><circle cx="784.1" cy="687.9" r="5.6" fill="#fff" fill-opacity="0.13"/>
<circle cx="784.1" cy="737.8" r="11.0" fill="#a1601a" fill-opacity="0.88"/><circle cx="784.1" cy="737.8" r="5.6" fill="#fff" fill-opacity="0.13"/>
<circle cx="784.1" cy="787.7" r="11.0" fill="#eb0e02" fill-opacity="0.88"/><circle cx="784.1" cy="787.7" r="5.6" fill="#fff" fill-opacity="0.13"/>
<circle cx="784.1" cy="837.6" r="11.0" fill="#f960dc" fill-opacity="0.88"/><circle cx="784.1" cy="837.6" r="5.6" fill="#fff" fill-opacity="0.13"/>
<circle cx="784.1" cy="887.5" r="11.0" fill="#c4cedc" fill-opacity="0.88"/><circle cx="784.1" cy="887.5" r="5.6" fill="#fff" fill-opacity="0.13"/>
<g stroke="#ebebeb" stroke-width="4.4">
<line x1="1325.1" x2="1325.1" y1="80.4" y2="890.0" stroke-width="4.0"/>
<line x1="1416.6" x2="1416.6" y1="80.4" y2="890.0" stroke-width="4.1"/>
<line x1="1507.1" x2="1507.1" y1="80.4" y2="890.0" stroke-width="5.5"/>
<line x1="1581.3" x2="1581.3" y1="80.4" y2="890.0" stroke-width="5.3"/>
<line x1="1655.0" x2="1655.0" y1="80.4" y2="890.0" stroke-width="5.0"/>
<line x1="1718.2" x2="1718.2" y1="80.4" y2="890.0" stroke-width="3.8"/>
<line x1="1780.4" x2="1780.4" y1="80.4" y2="890.0" stroke-width="3.8"/>
<line x1="1237" x2="1850" y1="165.2" y2="165.2" stroke-width="5.3"/>
<line x1="1237" x2="1850" y1="281.8" y2="281.8" stroke-width="4.2"/>
<line x1="1237" x2="1850" y1="445.9" y2="445.9" stroke-width="3.6"/>
<line x1="1237" x2="1850" y1="610.8" y2="610.8" stroke-width="3.6"/>
</g>
<path d="M1476.6 383.6L1476.60 362.30A21.3 21.3 0 1 1 1473.64 404.69Z" fill="#97dfca"/><path d="M1476.6 383.6L1473.64 404.69A21.3 21.3 0 0 1 1456.58 390.89Z" fill="#f0766b"/><path d="M1476.6 383.6L1456.58 390.89A21.3 21.3 0 0 1 1476.60 362.30Z" fill="#efab5b"/>
<path d="M1497.1 361.0L1497.10 335.60A25.4 25.4 0 0 1 1502.38 385.84Z" fill="#97dfca"/><path d="M1497.1 361.0L1502.38 385.84A25.4 25.4 0 0 1 1499.76 386.26Z" fill="#f0766b"/><path d="M1497.1 361.0L1499.76 386.26A25.4 25.4 0 0 1 1482.53 340.19Z" fill="#efab5b"/><path d="M1497.1 361.0L1482.53 340.19A25.4 25.4 0 0 1 1497.10 335.60Z" fill="#bfb6df"/>
<path d="M1548.4 354.0L1548.40 326.30A27.7 27.7 0 1 1 1527.18 371.81Z" fill="#97dfca"/><path d="M1548.4 354.0L1527.18 371.81A27.7 27.7 0 0 1 1548.40 326.30Z" fill="#efab5b"/>
<path d="M1370.8 170.3L1370.80 150.40A19.9 19.9 0 1 1 1361.77 188.03Z" fill="#97dfca"/><path d="M1370.8 170.3L1361.77 188.03A19.9 19.9 0 0 1 1350.98 168.57Z" fill="#f0766b"/><path d="M1370.8 170.3L1350.98 168.57A19.9 19.9 0 0 1 1364.98 151.27Z" fill="#efab5b"/><path d="M1370.8 170.3L1364.98 151.27A19.9 19.9 0 0 1 1370.80 150.40Z" fill="#bfb6df"/>
<path d="M1658.0 152.6L1658.00 113.00A39.6 39.6 0 1 1 1630.00 124.60Z" fill="#97dfca"/><path d="M1658.0 152.6L1630.00 124.60A39.6 39.6 0 0 1 1658.00 113.00Z" fill="#efab5b"/>
<path d="M1720.2 449.4L1720.20 420.40A29.0 29.0 0 1 1 1710.28 476.65Z" fill="#97dfca"/><path d="M1720.2 449.4L1710.28 476.65A29.0 29.0 0 0 1 1709.34 476.29Z" fill="#bfb6df"/><path d="M1720.2 449.4L1709.34 476.29A29.0 29.0 0 0 1 1720.20 420.40Z" fill="#efab5b"/>
<path d="M1624.5 564.6L1624.50 546.00A18.6 18.6 0 0 1 1641.98 570.96Z" fill="#97dfca"/><path d="M1624.5 564.6L1641.98 570.96A18.6 18.6 0 0 1 1639.16 576.05Z" fill="#f0766b"/><path d="M1624.5 564.6L1639.16 576.05A18.6 18.6 0 1 1 1617.53 547.35Z" fill="#efab5b"/><path d="M1624.5 564.6L1617.53 547.35A18.6 18.6 0 0 1 1624.50 546.00Z" fill="#bfb6df"/>
<path d="M1473.5 606.5L1473.50 592.80A13.7 13.7 0 0 1 1487.20 606.50Z" fill="#97dfca"/><path d="M1473.5 606.5L1487.20 606.50A13.7 13.7 0 0 1 1463.98 616.35Z" fill="#f0766b"/><path d="M1473.5 606.5L1463.98 616.35A13.7 13.7 0 0 1 1473.50 592.80Z" fill="#efab5b"/>
<path d="M1505.2 784.9L1505.20 768.20A16.7 16.7 0 0 1 1510.36 769.02Z" fill="#97dfca"/><path d="M1505.2 784.9L1510.36 769.02A16.7 16.7 0 1 1 1493.81 797.11Z" fill="#f0766b"/><path d="M1505.2 784.9L1493.81 797.11A16.7 16.7 0 0 1 1505.20 768.20Z" fill="#efab5b"/>
<path d="M1539.7 834.2L1539.70 810.10A24.1 24.1 0 0 1 1559.44 848.02Z" fill="#97dfca"/><path d="M1539.7 834.2L1559.44 848.02A24.1 24.1 0 0 1 1558.82 848.87Z" fill="#f0766b"/><path d="M1539.7 834.2L1558.82 848.87A24.1 24.1 0 1 1 1539.70 810.10Z" fill="#efab5b"/>
<g fill="#000">
<rect x="1231.1" y="74.4" width="625.1" height="3.5"/>
<rect x="1231.1" y="892.8" width="625.1" height="3.0"/>
<rect x="1231.1" y="74.4" width="3.8" height="821.4"/>
<rect x="1852.7" y="74.4" width="3.5" height="821.4"/>
</g>
<g stroke="#111" stroke-width="4">
<line x1="1325.0" x2="1325.0" y1="896" y2="902.7"/>
<line x1="1507.0" x2="1507.0" y1="896" y2="902.7"/>
<line x1="1655.7" x2="1655.7" y1="896" y2="902.7"/>
<line x1="1781.4" x2="1781.4" y1="896" y2="902.7"/>
<line x1="1225.2" x2="1231.2" y1="281.7" y2="281.7"/>
<line x1="1225.2" x2="1231.2" y1="610.8" y2="610.8"/>
</g>
<g font-size="25.6" fill="#2b2b2b" stroke="#2b2b2b" stroke-width="0.9" paint-order="stroke" stroke-linejoin="round" text-anchor="middle">
<text x="1324.6" y="929.2">400</text>
<text x="1506.6" y="929.2">500</text>
<text x="1655.3" y="929.2">600</text>
<text x="1781.0" y="929.2">700</text>
</g>
<g font-size="25.6" fill="#2b2b2b" stroke="#2b2b2b" stroke-width="0.9" paint-order="stroke" stroke-linejoin="round" text-anchor="end">
<text x="1219.8" y="291.6">1.5</text><text x="1219.8" y="621.6">1.0</text>
</g>
<rect x="1904.6" y="410.4" width="47.1" height="46.9" fill="#97dfca"/>
<rect x="1904.6" y="460.2" width="47.1" height="46.9" fill="#f0766b"/>
<rect x="1904.6" y="510.0" width="47.1" height="46.9" fill="#efab5b"/>
<rect x="1904.6" y="559.8" width="47.1" height="46.9" fill="#bfb6df"/>
<g font-size="25.6" fill="#000" stroke="#000" stroke-width="1.1" paint-order="stroke" stroke-linejoin="round">
<text x="1968.5" y="444.3">BF-BOF</text>
<text x="1968.5" y="494.0">DRI-EAF</text>
<text x="1968.5" y="543.7">Scrap-EAF</text>
<text x="1968.5" y="593.4">BF-OHF</text>
</g>
</svg>
</body></html>
